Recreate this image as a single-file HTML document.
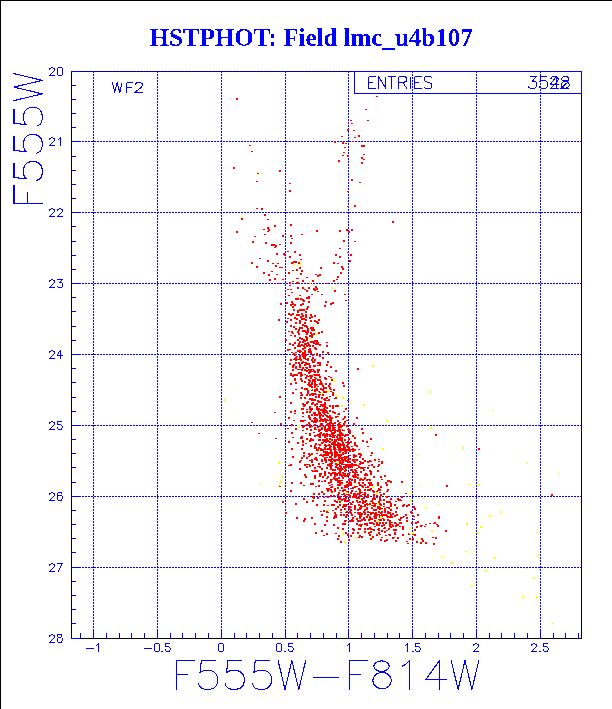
<!DOCTYPE html>
<html><head><meta charset="utf-8"><style>
html,body{margin:0;padding:0;background:#fff;width:612px;height:709px;overflow:hidden}
svg{display:block}
</style></head><body>
<svg width="612" height="709" viewBox="0 0 612 709" shape-rendering="crispEdges"><rect x="0" y="0" width="612" height="709" fill="#fff"/>
<rect x="0" y="0" width="612" height="1" fill="#000"/>
<rect x="0" y="0" width="1" height="709" fill="#000"/>
<path d="M71,71h511v1h-511z M71,638h511v1h-511z M71,71h1v568h-1z M581,71h1v568h-1z" fill="#000"/>
<path d="M93,71h1v2h-1zM93,74h1v2h-1zM93,77h1v2h-1zM93,80h1v2h-1zM93,83h1v2h-1zM93,86h1v2h-1zM93,89h1v2h-1zM93,92h1v2h-1zM93,95h1v2h-1zM93,98h1v2h-1zM93,101h1v2h-1zM93,104h1v2h-1zM93,107h1v2h-1zM93,110h1v2h-1zM93,113h1v2h-1zM93,116h1v2h-1zM93,119h1v2h-1zM93,122h1v2h-1zM93,125h1v2h-1zM93,128h1v2h-1zM93,131h1v2h-1zM93,134h1v2h-1zM93,137h1v2h-1zM93,140h1v2h-1zM93,143h1v2h-1zM93,146h1v2h-1zM93,149h1v2h-1zM93,152h1v2h-1zM93,155h1v2h-1zM93,158h1v2h-1zM93,161h1v2h-1zM93,164h1v2h-1zM93,167h1v2h-1zM93,170h1v2h-1zM93,173h1v2h-1zM93,176h1v2h-1zM93,179h1v2h-1zM93,182h1v2h-1zM93,185h1v2h-1zM93,188h1v2h-1zM93,191h1v2h-1zM93,194h1v2h-1zM93,197h1v2h-1zM93,200h1v2h-1zM93,203h1v2h-1zM93,206h1v2h-1zM93,209h1v2h-1zM93,212h1v2h-1zM93,215h1v2h-1zM93,218h1v2h-1zM93,221h1v2h-1zM93,224h1v2h-1zM93,227h1v2h-1zM93,230h1v2h-1zM93,233h1v2h-1zM93,236h1v2h-1zM93,239h1v2h-1zM93,242h1v2h-1zM93,245h1v2h-1zM93,248h1v2h-1zM93,251h1v2h-1zM93,254h1v2h-1zM93,257h1v2h-1zM93,260h1v2h-1zM93,263h1v2h-1zM93,266h1v2h-1zM93,269h1v2h-1zM93,272h1v2h-1zM93,275h1v2h-1zM93,278h1v2h-1zM93,281h1v2h-1zM93,284h1v2h-1zM93,287h1v2h-1zM93,290h1v2h-1zM93,293h1v2h-1zM93,296h1v2h-1zM93,299h1v2h-1zM93,302h1v2h-1zM93,305h1v2h-1zM93,308h1v2h-1zM93,311h1v2h-1zM93,314h1v2h-1zM93,317h1v2h-1zM93,320h1v2h-1zM93,323h1v2h-1zM93,326h1v2h-1zM93,329h1v2h-1zM93,332h1v2h-1zM93,335h1v2h-1zM93,338h1v2h-1zM93,341h1v2h-1zM93,344h1v2h-1zM93,347h1v2h-1zM93,350h1v2h-1zM93,353h1v2h-1zM93,356h1v2h-1zM93,359h1v2h-1zM93,362h1v2h-1zM93,365h1v2h-1zM93,368h1v2h-1zM93,371h1v2h-1zM93,374h1v2h-1zM93,377h1v2h-1zM93,380h1v2h-1zM93,383h1v2h-1zM93,386h1v2h-1zM93,389h1v2h-1zM93,392h1v2h-1zM93,395h1v2h-1zM93,398h1v2h-1zM93,401h1v2h-1zM93,404h1v2h-1zM93,407h1v2h-1zM93,410h1v2h-1zM93,413h1v2h-1zM93,416h1v2h-1zM93,419h1v2h-1zM93,422h1v2h-1zM93,425h1v2h-1zM93,428h1v2h-1zM93,431h1v2h-1zM93,434h1v2h-1zM93,437h1v2h-1zM93,440h1v2h-1zM93,443h1v2h-1zM93,446h1v2h-1zM93,449h1v2h-1zM93,452h1v2h-1zM93,455h1v2h-1zM93,458h1v2h-1zM93,461h1v2h-1zM93,464h1v2h-1zM93,467h1v2h-1zM93,470h1v2h-1zM93,473h1v2h-1zM93,476h1v2h-1zM93,479h1v2h-1zM93,482h1v2h-1zM93,485h1v2h-1zM93,488h1v2h-1zM93,491h1v2h-1zM93,494h1v2h-1zM93,497h1v2h-1zM93,500h1v2h-1zM93,503h1v2h-1zM93,506h1v2h-1zM93,509h1v2h-1zM93,512h1v2h-1zM93,515h1v2h-1zM93,518h1v2h-1zM93,521h1v2h-1zM93,524h1v2h-1zM93,527h1v2h-1zM93,530h1v2h-1zM93,533h1v2h-1zM93,536h1v2h-1zM93,539h1v2h-1zM93,542h1v2h-1zM93,545h1v2h-1zM93,548h1v2h-1zM93,551h1v2h-1zM93,554h1v2h-1zM93,557h1v2h-1zM93,560h1v2h-1zM93,563h1v2h-1zM93,566h1v2h-1zM93,569h1v2h-1zM93,572h1v2h-1zM93,575h1v2h-1zM93,578h1v2h-1zM93,581h1v2h-1zM93,584h1v2h-1zM93,587h1v2h-1zM93,590h1v2h-1zM93,593h1v2h-1zM93,596h1v2h-1zM93,599h1v2h-1zM93,602h1v2h-1zM93,605h1v2h-1zM93,608h1v2h-1zM93,611h1v2h-1zM93,614h1v2h-1zM93,617h1v2h-1zM93,620h1v2h-1zM93,623h1v2h-1zM93,626h1v2h-1zM93,629h1v2h-1zM93,632h1v2h-1zM93,635h1v2h-1zM93,638h1v1h-1zM157,71h1v2h-1zM157,74h1v2h-1zM157,77h1v2h-1zM157,80h1v2h-1zM157,83h1v2h-1zM157,86h1v2h-1zM157,89h1v2h-1zM157,92h1v2h-1zM157,95h1v2h-1zM157,98h1v2h-1zM157,101h1v2h-1zM157,104h1v2h-1zM157,107h1v2h-1zM157,110h1v2h-1zM157,113h1v2h-1zM157,116h1v2h-1zM157,119h1v2h-1zM157,122h1v2h-1zM157,125h1v2h-1zM157,128h1v2h-1zM157,131h1v2h-1zM157,134h1v2h-1zM157,137h1v2h-1zM157,140h1v2h-1zM157,143h1v2h-1zM157,146h1v2h-1zM157,149h1v2h-1zM157,152h1v2h-1zM157,155h1v2h-1zM157,158h1v2h-1zM157,161h1v2h-1zM157,164h1v2h-1zM157,167h1v2h-1zM157,170h1v2h-1zM157,173h1v2h-1zM157,176h1v2h-1zM157,179h1v2h-1zM157,182h1v2h-1zM157,185h1v2h-1zM157,188h1v2h-1zM157,191h1v2h-1zM157,194h1v2h-1zM157,197h1v2h-1zM157,200h1v2h-1zM157,203h1v2h-1zM157,206h1v2h-1zM157,209h1v2h-1zM157,212h1v2h-1zM157,215h1v2h-1zM157,218h1v2h-1zM157,221h1v2h-1zM157,224h1v2h-1zM157,227h1v2h-1zM157,230h1v2h-1zM157,233h1v2h-1zM157,236h1v2h-1zM157,239h1v2h-1zM157,242h1v2h-1zM157,245h1v2h-1zM157,248h1v2h-1zM157,251h1v2h-1zM157,254h1v2h-1zM157,257h1v2h-1zM157,260h1v2h-1zM157,263h1v2h-1zM157,266h1v2h-1zM157,269h1v2h-1zM157,272h1v2h-1zM157,275h1v2h-1zM157,278h1v2h-1zM157,281h1v2h-1zM157,284h1v2h-1zM157,287h1v2h-1zM157,290h1v2h-1zM157,293h1v2h-1zM157,296h1v2h-1zM157,299h1v2h-1zM157,302h1v2h-1zM157,305h1v2h-1zM157,308h1v2h-1zM157,311h1v2h-1zM157,314h1v2h-1zM157,317h1v2h-1zM157,320h1v2h-1zM157,323h1v2h-1zM157,326h1v2h-1zM157,329h1v2h-1zM157,332h1v2h-1zM157,335h1v2h-1zM157,338h1v2h-1zM157,341h1v2h-1zM157,344h1v2h-1zM157,347h1v2h-1zM157,350h1v2h-1zM157,353h1v2h-1zM157,356h1v2h-1zM157,359h1v2h-1zM157,362h1v2h-1zM157,365h1v2h-1zM157,368h1v2h-1zM157,371h1v2h-1zM157,374h1v2h-1zM157,377h1v2h-1zM157,380h1v2h-1zM157,383h1v2h-1zM157,386h1v2h-1zM157,389h1v2h-1zM157,392h1v2h-1zM157,395h1v2h-1zM157,398h1v2h-1zM157,401h1v2h-1zM157,404h1v2h-1zM157,407h1v2h-1zM157,410h1v2h-1zM157,413h1v2h-1zM157,416h1v2h-1zM157,419h1v2h-1zM157,422h1v2h-1zM157,425h1v2h-1zM157,428h1v2h-1zM157,431h1v2h-1zM157,434h1v2h-1zM157,437h1v2h-1zM157,440h1v2h-1zM157,443h1v2h-1zM157,446h1v2h-1zM157,449h1v2h-1zM157,452h1v2h-1zM157,455h1v2h-1zM157,458h1v2h-1zM157,461h1v2h-1zM157,464h1v2h-1zM157,467h1v2h-1zM157,470h1v2h-1zM157,473h1v2h-1zM157,476h1v2h-1zM157,479h1v2h-1zM157,482h1v2h-1zM157,485h1v2h-1zM157,488h1v2h-1zM157,491h1v2h-1zM157,494h1v2h-1zM157,497h1v2h-1zM157,500h1v2h-1zM157,503h1v2h-1zM157,506h1v2h-1zM157,509h1v2h-1zM157,512h1v2h-1zM157,515h1v2h-1zM157,518h1v2h-1zM157,521h1v2h-1zM157,524h1v2h-1zM157,527h1v2h-1zM157,530h1v2h-1zM157,533h1v2h-1zM157,536h1v2h-1zM157,539h1v2h-1zM157,542h1v2h-1zM157,545h1v2h-1zM157,548h1v2h-1zM157,551h1v2h-1zM157,554h1v2h-1zM157,557h1v2h-1zM157,560h1v2h-1zM157,563h1v2h-1zM157,566h1v2h-1zM157,569h1v2h-1zM157,572h1v2h-1zM157,575h1v2h-1zM157,578h1v2h-1zM157,581h1v2h-1zM157,584h1v2h-1zM157,587h1v2h-1zM157,590h1v2h-1zM157,593h1v2h-1zM157,596h1v2h-1zM157,599h1v2h-1zM157,602h1v2h-1zM157,605h1v2h-1zM157,608h1v2h-1zM157,611h1v2h-1zM157,614h1v2h-1zM157,617h1v2h-1zM157,620h1v2h-1zM157,623h1v2h-1zM157,626h1v2h-1zM157,629h1v2h-1zM157,632h1v2h-1zM157,635h1v2h-1zM157,638h1v1h-1zM221,71h1v2h-1zM221,74h1v2h-1zM221,77h1v2h-1zM221,80h1v2h-1zM221,83h1v2h-1zM221,86h1v2h-1zM221,89h1v2h-1zM221,92h1v2h-1zM221,95h1v2h-1zM221,98h1v2h-1zM221,101h1v2h-1zM221,104h1v2h-1zM221,107h1v2h-1zM221,110h1v2h-1zM221,113h1v2h-1zM221,116h1v2h-1zM221,119h1v2h-1zM221,122h1v2h-1zM221,125h1v2h-1zM221,128h1v2h-1zM221,131h1v2h-1zM221,134h1v2h-1zM221,137h1v2h-1zM221,140h1v2h-1zM221,143h1v2h-1zM221,146h1v2h-1zM221,149h1v2h-1zM221,152h1v2h-1zM221,155h1v2h-1zM221,158h1v2h-1zM221,161h1v2h-1zM221,164h1v2h-1zM221,167h1v2h-1zM221,170h1v2h-1zM221,173h1v2h-1zM221,176h1v2h-1zM221,179h1v2h-1zM221,182h1v2h-1zM221,185h1v2h-1zM221,188h1v2h-1zM221,191h1v2h-1zM221,194h1v2h-1zM221,197h1v2h-1zM221,200h1v2h-1zM221,203h1v2h-1zM221,206h1v2h-1zM221,209h1v2h-1zM221,212h1v2h-1zM221,215h1v2h-1zM221,218h1v2h-1zM221,221h1v2h-1zM221,224h1v2h-1zM221,227h1v2h-1zM221,230h1v2h-1zM221,233h1v2h-1zM221,236h1v2h-1zM221,239h1v2h-1zM221,242h1v2h-1zM221,245h1v2h-1zM221,248h1v2h-1zM221,251h1v2h-1zM221,254h1v2h-1zM221,257h1v2h-1zM221,260h1v2h-1zM221,263h1v2h-1zM221,266h1v2h-1zM221,269h1v2h-1zM221,272h1v2h-1zM221,275h1v2h-1zM221,278h1v2h-1zM221,281h1v2h-1zM221,284h1v2h-1zM221,287h1v2h-1zM221,290h1v2h-1zM221,293h1v2h-1zM221,296h1v2h-1zM221,299h1v2h-1zM221,302h1v2h-1zM221,305h1v2h-1zM221,308h1v2h-1zM221,311h1v2h-1zM221,314h1v2h-1zM221,317h1v2h-1zM221,320h1v2h-1zM221,323h1v2h-1zM221,326h1v2h-1zM221,329h1v2h-1zM221,332h1v2h-1zM221,335h1v2h-1zM221,338h1v2h-1zM221,341h1v2h-1zM221,344h1v2h-1zM221,347h1v2h-1zM221,350h1v2h-1zM221,353h1v2h-1zM221,356h1v2h-1zM221,359h1v2h-1zM221,362h1v2h-1zM221,365h1v2h-1zM221,368h1v2h-1zM221,371h1v2h-1zM221,374h1v2h-1zM221,377h1v2h-1zM221,380h1v2h-1zM221,383h1v2h-1zM221,386h1v2h-1zM221,389h1v2h-1zM221,392h1v2h-1zM221,395h1v2h-1zM221,398h1v2h-1zM221,401h1v2h-1zM221,404h1v2h-1zM221,407h1v2h-1zM221,410h1v2h-1zM221,413h1v2h-1zM221,416h1v2h-1zM221,419h1v2h-1zM221,422h1v2h-1zM221,425h1v2h-1zM221,428h1v2h-1zM221,431h1v2h-1zM221,434h1v2h-1zM221,437h1v2h-1zM221,440h1v2h-1zM221,443h1v2h-1zM221,446h1v2h-1zM221,449h1v2h-1zM221,452h1v2h-1zM221,455h1v2h-1zM221,458h1v2h-1zM221,461h1v2h-1zM221,464h1v2h-1zM221,467h1v2h-1zM221,470h1v2h-1zM221,473h1v2h-1zM221,476h1v2h-1zM221,479h1v2h-1zM221,482h1v2h-1zM221,485h1v2h-1zM221,488h1v2h-1zM221,491h1v2h-1zM221,494h1v2h-1zM221,497h1v2h-1zM221,500h1v2h-1zM221,503h1v2h-1zM221,506h1v2h-1zM221,509h1v2h-1zM221,512h1v2h-1zM221,515h1v2h-1zM221,518h1v2h-1zM221,521h1v2h-1zM221,524h1v2h-1zM221,527h1v2h-1zM221,530h1v2h-1zM221,533h1v2h-1zM221,536h1v2h-1zM221,539h1v2h-1zM221,542h1v2h-1zM221,545h1v2h-1zM221,548h1v2h-1zM221,551h1v2h-1zM221,554h1v2h-1zM221,557h1v2h-1zM221,560h1v2h-1zM221,563h1v2h-1zM221,566h1v2h-1zM221,569h1v2h-1zM221,572h1v2h-1zM221,575h1v2h-1zM221,578h1v2h-1zM221,581h1v2h-1zM221,584h1v2h-1zM221,587h1v2h-1zM221,590h1v2h-1zM221,593h1v2h-1zM221,596h1v2h-1zM221,599h1v2h-1zM221,602h1v2h-1zM221,605h1v2h-1zM221,608h1v2h-1zM221,611h1v2h-1zM221,614h1v2h-1zM221,617h1v2h-1zM221,620h1v2h-1zM221,623h1v2h-1zM221,626h1v2h-1zM221,629h1v2h-1zM221,632h1v2h-1zM221,635h1v2h-1zM221,638h1v1h-1zM285,71h1v2h-1zM285,74h1v2h-1zM285,77h1v2h-1zM285,80h1v2h-1zM285,83h1v2h-1zM285,86h1v2h-1zM285,89h1v2h-1zM285,92h1v2h-1zM285,95h1v2h-1zM285,98h1v2h-1zM285,101h1v2h-1zM285,104h1v2h-1zM285,107h1v2h-1zM285,110h1v2h-1zM285,113h1v2h-1zM285,116h1v2h-1zM285,119h1v2h-1zM285,122h1v2h-1zM285,125h1v2h-1zM285,128h1v2h-1zM285,131h1v2h-1zM285,134h1v2h-1zM285,137h1v2h-1zM285,140h1v2h-1zM285,143h1v2h-1zM285,146h1v2h-1zM285,149h1v2h-1zM285,152h1v2h-1zM285,155h1v2h-1zM285,158h1v2h-1zM285,161h1v2h-1zM285,164h1v2h-1zM285,167h1v2h-1zM285,170h1v2h-1zM285,173h1v2h-1zM285,176h1v2h-1zM285,179h1v2h-1zM285,182h1v2h-1zM285,185h1v2h-1zM285,188h1v2h-1zM285,191h1v2h-1zM285,194h1v2h-1zM285,197h1v2h-1zM285,200h1v2h-1zM285,203h1v2h-1zM285,206h1v2h-1zM285,209h1v2h-1zM285,212h1v2h-1zM285,215h1v2h-1zM285,218h1v2h-1zM285,221h1v2h-1zM285,224h1v2h-1zM285,227h1v2h-1zM285,230h1v2h-1zM285,233h1v2h-1zM285,236h1v2h-1zM285,239h1v2h-1zM285,242h1v2h-1zM285,245h1v2h-1zM285,248h1v2h-1zM285,251h1v2h-1zM285,254h1v2h-1zM285,257h1v2h-1zM285,260h1v2h-1zM285,263h1v2h-1zM285,266h1v2h-1zM285,269h1v2h-1zM285,272h1v2h-1zM285,275h1v2h-1zM285,278h1v2h-1zM285,281h1v2h-1zM285,284h1v2h-1zM285,287h1v2h-1zM285,290h1v2h-1zM285,293h1v2h-1zM285,296h1v2h-1zM285,299h1v2h-1zM285,302h1v2h-1zM285,305h1v2h-1zM285,308h1v2h-1zM285,311h1v2h-1zM285,314h1v2h-1zM285,317h1v2h-1zM285,320h1v2h-1zM285,323h1v2h-1zM285,326h1v2h-1zM285,329h1v2h-1zM285,332h1v2h-1zM285,335h1v2h-1zM285,338h1v2h-1zM285,341h1v2h-1zM285,344h1v2h-1zM285,347h1v2h-1zM285,350h1v2h-1zM285,353h1v2h-1zM285,356h1v2h-1zM285,359h1v2h-1zM285,362h1v2h-1zM285,365h1v2h-1zM285,368h1v2h-1zM285,371h1v2h-1zM285,374h1v2h-1zM285,377h1v2h-1zM285,380h1v2h-1zM285,383h1v2h-1zM285,386h1v2h-1zM285,389h1v2h-1zM285,392h1v2h-1zM285,395h1v2h-1zM285,398h1v2h-1zM285,401h1v2h-1zM285,404h1v2h-1zM285,407h1v2h-1zM285,410h1v2h-1zM285,413h1v2h-1zM285,416h1v2h-1zM285,419h1v2h-1zM285,422h1v2h-1zM285,425h1v2h-1zM285,428h1v2h-1zM285,431h1v2h-1zM285,434h1v2h-1zM285,437h1v2h-1zM285,440h1v2h-1zM285,443h1v2h-1zM285,446h1v2h-1zM285,449h1v2h-1zM285,452h1v2h-1zM285,455h1v2h-1zM285,458h1v2h-1zM285,461h1v2h-1zM285,464h1v2h-1zM285,467h1v2h-1zM285,470h1v2h-1zM285,473h1v2h-1zM285,476h1v2h-1zM285,479h1v2h-1zM285,482h1v2h-1zM285,485h1v2h-1zM285,488h1v2h-1zM285,491h1v2h-1zM285,494h1v2h-1zM285,497h1v2h-1zM285,500h1v2h-1zM285,503h1v2h-1zM285,506h1v2h-1zM285,509h1v2h-1zM285,512h1v2h-1zM285,515h1v2h-1zM285,518h1v2h-1zM285,521h1v2h-1zM285,524h1v2h-1zM285,527h1v2h-1zM285,530h1v2h-1zM285,533h1v2h-1zM285,536h1v2h-1zM285,539h1v2h-1zM285,542h1v2h-1zM285,545h1v2h-1zM285,548h1v2h-1zM285,551h1v2h-1zM285,554h1v2h-1zM285,557h1v2h-1zM285,560h1v2h-1zM285,563h1v2h-1zM285,566h1v2h-1zM285,569h1v2h-1zM285,572h1v2h-1zM285,575h1v2h-1zM285,578h1v2h-1zM285,581h1v2h-1zM285,584h1v2h-1zM285,587h1v2h-1zM285,590h1v2h-1zM285,593h1v2h-1zM285,596h1v2h-1zM285,599h1v2h-1zM285,602h1v2h-1zM285,605h1v2h-1zM285,608h1v2h-1zM285,611h1v2h-1zM285,614h1v2h-1zM285,617h1v2h-1zM285,620h1v2h-1zM285,623h1v2h-1zM285,626h1v2h-1zM285,629h1v2h-1zM285,632h1v2h-1zM285,635h1v2h-1zM285,638h1v1h-1zM348,71h1v2h-1zM348,74h1v2h-1zM348,77h1v2h-1zM348,80h1v2h-1zM348,83h1v2h-1zM348,86h1v2h-1zM348,89h1v2h-1zM348,92h1v2h-1zM348,95h1v2h-1zM348,98h1v2h-1zM348,101h1v2h-1zM348,104h1v2h-1zM348,107h1v2h-1zM348,110h1v2h-1zM348,113h1v2h-1zM348,116h1v2h-1zM348,119h1v2h-1zM348,122h1v2h-1zM348,125h1v2h-1zM348,128h1v2h-1zM348,131h1v2h-1zM348,134h1v2h-1zM348,137h1v2h-1zM348,140h1v2h-1zM348,143h1v2h-1zM348,146h1v2h-1zM348,149h1v2h-1zM348,152h1v2h-1zM348,155h1v2h-1zM348,158h1v2h-1zM348,161h1v2h-1zM348,164h1v2h-1zM348,167h1v2h-1zM348,170h1v2h-1zM348,173h1v2h-1zM348,176h1v2h-1zM348,179h1v2h-1zM348,182h1v2h-1zM348,185h1v2h-1zM348,188h1v2h-1zM348,191h1v2h-1zM348,194h1v2h-1zM348,197h1v2h-1zM348,200h1v2h-1zM348,203h1v2h-1zM348,206h1v2h-1zM348,209h1v2h-1zM348,212h1v2h-1zM348,215h1v2h-1zM348,218h1v2h-1zM348,221h1v2h-1zM348,224h1v2h-1zM348,227h1v2h-1zM348,230h1v2h-1zM348,233h1v2h-1zM348,236h1v2h-1zM348,239h1v2h-1zM348,242h1v2h-1zM348,245h1v2h-1zM348,248h1v2h-1zM348,251h1v2h-1zM348,254h1v2h-1zM348,257h1v2h-1zM348,260h1v2h-1zM348,263h1v2h-1zM348,266h1v2h-1zM348,269h1v2h-1zM348,272h1v2h-1zM348,275h1v2h-1zM348,278h1v2h-1zM348,281h1v2h-1zM348,284h1v2h-1zM348,287h1v2h-1zM348,290h1v2h-1zM348,293h1v2h-1zM348,296h1v2h-1zM348,299h1v2h-1zM348,302h1v2h-1zM348,305h1v2h-1zM348,308h1v2h-1zM348,311h1v2h-1zM348,314h1v2h-1zM348,317h1v2h-1zM348,320h1v2h-1zM348,323h1v2h-1zM348,326h1v2h-1zM348,329h1v2h-1zM348,332h1v2h-1zM348,335h1v2h-1zM348,338h1v2h-1zM348,341h1v2h-1zM348,344h1v2h-1zM348,347h1v2h-1zM348,350h1v2h-1zM348,353h1v2h-1zM348,356h1v2h-1zM348,359h1v2h-1zM348,362h1v2h-1zM348,365h1v2h-1zM348,368h1v2h-1zM348,371h1v2h-1zM348,374h1v2h-1zM348,377h1v2h-1zM348,380h1v2h-1zM348,383h1v2h-1zM348,386h1v2h-1zM348,389h1v2h-1zM348,392h1v2h-1zM348,395h1v2h-1zM348,398h1v2h-1zM348,401h1v2h-1zM348,404h1v2h-1zM348,407h1v2h-1zM348,410h1v2h-1zM348,413h1v2h-1zM348,416h1v2h-1zM348,419h1v2h-1zM348,422h1v2h-1zM348,425h1v2h-1zM348,428h1v2h-1zM348,431h1v2h-1zM348,434h1v2h-1zM348,437h1v2h-1zM348,440h1v2h-1zM348,443h1v2h-1zM348,446h1v2h-1zM348,449h1v2h-1zM348,452h1v2h-1zM348,455h1v2h-1zM348,458h1v2h-1zM348,461h1v2h-1zM348,464h1v2h-1zM348,467h1v2h-1zM348,470h1v2h-1zM348,473h1v2h-1zM348,476h1v2h-1zM348,479h1v2h-1zM348,482h1v2h-1zM348,485h1v2h-1zM348,488h1v2h-1zM348,491h1v2h-1zM348,494h1v2h-1zM348,497h1v2h-1zM348,500h1v2h-1zM348,503h1v2h-1zM348,506h1v2h-1zM348,509h1v2h-1zM348,512h1v2h-1zM348,515h1v2h-1zM348,518h1v2h-1zM348,521h1v2h-1zM348,524h1v2h-1zM348,527h1v2h-1zM348,530h1v2h-1zM348,533h1v2h-1zM348,536h1v2h-1zM348,539h1v2h-1zM348,542h1v2h-1zM348,545h1v2h-1zM348,548h1v2h-1zM348,551h1v2h-1zM348,554h1v2h-1zM348,557h1v2h-1zM348,560h1v2h-1zM348,563h1v2h-1zM348,566h1v2h-1zM348,569h1v2h-1zM348,572h1v2h-1zM348,575h1v2h-1zM348,578h1v2h-1zM348,581h1v2h-1zM348,584h1v2h-1zM348,587h1v2h-1zM348,590h1v2h-1zM348,593h1v2h-1zM348,596h1v2h-1zM348,599h1v2h-1zM348,602h1v2h-1zM348,605h1v2h-1zM348,608h1v2h-1zM348,611h1v2h-1zM348,614h1v2h-1zM348,617h1v2h-1zM348,620h1v2h-1zM348,623h1v2h-1zM348,626h1v2h-1zM348,629h1v2h-1zM348,632h1v2h-1zM348,635h1v2h-1zM348,638h1v1h-1zM412,71h1v2h-1zM412,74h1v2h-1zM412,77h1v2h-1zM412,80h1v2h-1zM412,83h1v2h-1zM412,86h1v2h-1zM412,89h1v2h-1zM412,92h1v2h-1zM412,95h1v2h-1zM412,98h1v2h-1zM412,101h1v2h-1zM412,104h1v2h-1zM412,107h1v2h-1zM412,110h1v2h-1zM412,113h1v2h-1zM412,116h1v2h-1zM412,119h1v2h-1zM412,122h1v2h-1zM412,125h1v2h-1zM412,128h1v2h-1zM412,131h1v2h-1zM412,134h1v2h-1zM412,137h1v2h-1zM412,140h1v2h-1zM412,143h1v2h-1zM412,146h1v2h-1zM412,149h1v2h-1zM412,152h1v2h-1zM412,155h1v2h-1zM412,158h1v2h-1zM412,161h1v2h-1zM412,164h1v2h-1zM412,167h1v2h-1zM412,170h1v2h-1zM412,173h1v2h-1zM412,176h1v2h-1zM412,179h1v2h-1zM412,182h1v2h-1zM412,185h1v2h-1zM412,188h1v2h-1zM412,191h1v2h-1zM412,194h1v2h-1zM412,197h1v2h-1zM412,200h1v2h-1zM412,203h1v2h-1zM412,206h1v2h-1zM412,209h1v2h-1zM412,212h1v2h-1zM412,215h1v2h-1zM412,218h1v2h-1zM412,221h1v2h-1zM412,224h1v2h-1zM412,227h1v2h-1zM412,230h1v2h-1zM412,233h1v2h-1zM412,236h1v2h-1zM412,239h1v2h-1zM412,242h1v2h-1zM412,245h1v2h-1zM412,248h1v2h-1zM412,251h1v2h-1zM412,254h1v2h-1zM412,257h1v2h-1zM412,260h1v2h-1zM412,263h1v2h-1zM412,266h1v2h-1zM412,269h1v2h-1zM412,272h1v2h-1zM412,275h1v2h-1zM412,278h1v2h-1zM412,281h1v2h-1zM412,284h1v2h-1zM412,287h1v2h-1zM412,290h1v2h-1zM412,293h1v2h-1zM412,296h1v2h-1zM412,299h1v2h-1zM412,302h1v2h-1zM412,305h1v2h-1zM412,308h1v2h-1zM412,311h1v2h-1zM412,314h1v2h-1zM412,317h1v2h-1zM412,320h1v2h-1zM412,323h1v2h-1zM412,326h1v2h-1zM412,329h1v2h-1zM412,332h1v2h-1zM412,335h1v2h-1zM412,338h1v2h-1zM412,341h1v2h-1zM412,344h1v2h-1zM412,347h1v2h-1zM412,350h1v2h-1zM412,353h1v2h-1zM412,356h1v2h-1zM412,359h1v2h-1zM412,362h1v2h-1zM412,365h1v2h-1zM412,368h1v2h-1zM412,371h1v2h-1zM412,374h1v2h-1zM412,377h1v2h-1zM412,380h1v2h-1zM412,383h1v2h-1zM412,386h1v2h-1zM412,389h1v2h-1zM412,392h1v2h-1zM412,395h1v2h-1zM412,398h1v2h-1zM412,401h1v2h-1zM412,404h1v2h-1zM412,407h1v2h-1zM412,410h1v2h-1zM412,413h1v2h-1zM412,416h1v2h-1zM412,419h1v2h-1zM412,422h1v2h-1zM412,425h1v2h-1zM412,428h1v2h-1zM412,431h1v2h-1zM412,434h1v2h-1zM412,437h1v2h-1zM412,440h1v2h-1zM412,443h1v2h-1zM412,446h1v2h-1zM412,449h1v2h-1zM412,452h1v2h-1zM412,455h1v2h-1zM412,458h1v2h-1zM412,461h1v2h-1zM412,464h1v2h-1zM412,467h1v2h-1zM412,470h1v2h-1zM412,473h1v2h-1zM412,476h1v2h-1zM412,479h1v2h-1zM412,482h1v2h-1zM412,485h1v2h-1zM412,488h1v2h-1zM412,491h1v2h-1zM412,494h1v2h-1zM412,497h1v2h-1zM412,500h1v2h-1zM412,503h1v2h-1zM412,506h1v2h-1zM412,509h1v2h-1zM412,512h1v2h-1zM412,515h1v2h-1zM412,518h1v2h-1zM412,521h1v2h-1zM412,524h1v2h-1zM412,527h1v2h-1zM412,530h1v2h-1zM412,533h1v2h-1zM412,536h1v2h-1zM412,539h1v2h-1zM412,542h1v2h-1zM412,545h1v2h-1zM412,548h1v2h-1zM412,551h1v2h-1zM412,554h1v2h-1zM412,557h1v2h-1zM412,560h1v2h-1zM412,563h1v2h-1zM412,566h1v2h-1zM412,569h1v2h-1zM412,572h1v2h-1zM412,575h1v2h-1zM412,578h1v2h-1zM412,581h1v2h-1zM412,584h1v2h-1zM412,587h1v2h-1zM412,590h1v2h-1zM412,593h1v2h-1zM412,596h1v2h-1zM412,599h1v2h-1zM412,602h1v2h-1zM412,605h1v2h-1zM412,608h1v2h-1zM412,611h1v2h-1zM412,614h1v2h-1zM412,617h1v2h-1zM412,620h1v2h-1zM412,623h1v2h-1zM412,626h1v2h-1zM412,629h1v2h-1zM412,632h1v2h-1zM412,635h1v2h-1zM412,638h1v1h-1zM476,71h1v2h-1zM476,74h1v2h-1zM476,77h1v2h-1zM476,80h1v2h-1zM476,83h1v2h-1zM476,86h1v2h-1zM476,89h1v2h-1zM476,92h1v2h-1zM476,95h1v2h-1zM476,98h1v2h-1zM476,101h1v2h-1zM476,104h1v2h-1zM476,107h1v2h-1zM476,110h1v2h-1zM476,113h1v2h-1zM476,116h1v2h-1zM476,119h1v2h-1zM476,122h1v2h-1zM476,125h1v2h-1zM476,128h1v2h-1zM476,131h1v2h-1zM476,134h1v2h-1zM476,137h1v2h-1zM476,140h1v2h-1zM476,143h1v2h-1zM476,146h1v2h-1zM476,149h1v2h-1zM476,152h1v2h-1zM476,155h1v2h-1zM476,158h1v2h-1zM476,161h1v2h-1zM476,164h1v2h-1zM476,167h1v2h-1zM476,170h1v2h-1zM476,173h1v2h-1zM476,176h1v2h-1zM476,179h1v2h-1zM476,182h1v2h-1zM476,185h1v2h-1zM476,188h1v2h-1zM476,191h1v2h-1zM476,194h1v2h-1zM476,197h1v2h-1zM476,200h1v2h-1zM476,203h1v2h-1zM476,206h1v2h-1zM476,209h1v2h-1zM476,212h1v2h-1zM476,215h1v2h-1zM476,218h1v2h-1zM476,221h1v2h-1zM476,224h1v2h-1zM476,227h1v2h-1zM476,230h1v2h-1zM476,233h1v2h-1zM476,236h1v2h-1zM476,239h1v2h-1zM476,242h1v2h-1zM476,245h1v2h-1zM476,248h1v2h-1zM476,251h1v2h-1zM476,254h1v2h-1zM476,257h1v2h-1zM476,260h1v2h-1zM476,263h1v2h-1zM476,266h1v2h-1zM476,269h1v2h-1zM476,272h1v2h-1zM476,275h1v2h-1zM476,278h1v2h-1zM476,281h1v2h-1zM476,284h1v2h-1zM476,287h1v2h-1zM476,290h1v2h-1zM476,293h1v2h-1zM476,296h1v2h-1zM476,299h1v2h-1zM476,302h1v2h-1zM476,305h1v2h-1zM476,308h1v2h-1zM476,311h1v2h-1zM476,314h1v2h-1zM476,317h1v2h-1zM476,320h1v2h-1zM476,323h1v2h-1zM476,326h1v2h-1zM476,329h1v2h-1zM476,332h1v2h-1zM476,335h1v2h-1zM476,338h1v2h-1zM476,341h1v2h-1zM476,344h1v2h-1zM476,347h1v2h-1zM476,350h1v2h-1zM476,353h1v2h-1zM476,356h1v2h-1zM476,359h1v2h-1zM476,362h1v2h-1zM476,365h1v2h-1zM476,368h1v2h-1zM476,371h1v2h-1zM476,374h1v2h-1zM476,377h1v2h-1zM476,380h1v2h-1zM476,383h1v2h-1zM476,386h1v2h-1zM476,389h1v2h-1zM476,392h1v2h-1zM476,395h1v2h-1zM476,398h1v2h-1zM476,401h1v2h-1zM476,404h1v2h-1zM476,407h1v2h-1zM476,410h1v2h-1zM476,413h1v2h-1zM476,416h1v2h-1zM476,419h1v2h-1zM476,422h1v2h-1zM476,425h1v2h-1zM476,428h1v2h-1zM476,431h1v2h-1zM476,434h1v2h-1zM476,437h1v2h-1zM476,440h1v2h-1zM476,443h1v2h-1zM476,446h1v2h-1zM476,449h1v2h-1zM476,452h1v2h-1zM476,455h1v2h-1zM476,458h1v2h-1zM476,461h1v2h-1zM476,464h1v2h-1zM476,467h1v2h-1zM476,470h1v2h-1zM476,473h1v2h-1zM476,476h1v2h-1zM476,479h1v2h-1zM476,482h1v2h-1zM476,485h1v2h-1zM476,488h1v2h-1zM476,491h1v2h-1zM476,494h1v2h-1zM476,497h1v2h-1zM476,500h1v2h-1zM476,503h1v2h-1zM476,506h1v2h-1zM476,509h1v2h-1zM476,512h1v2h-1zM476,515h1v2h-1zM476,518h1v2h-1zM476,521h1v2h-1zM476,524h1v2h-1zM476,527h1v2h-1zM476,530h1v2h-1zM476,533h1v2h-1zM476,536h1v2h-1zM476,539h1v2h-1zM476,542h1v2h-1zM476,545h1v2h-1zM476,548h1v2h-1zM476,551h1v2h-1zM476,554h1v2h-1zM476,557h1v2h-1zM476,560h1v2h-1zM476,563h1v2h-1zM476,566h1v2h-1zM476,569h1v2h-1zM476,572h1v2h-1zM476,575h1v2h-1zM476,578h1v2h-1zM476,581h1v2h-1zM476,584h1v2h-1zM476,587h1v2h-1zM476,590h1v2h-1zM476,593h1v2h-1zM476,596h1v2h-1zM476,599h1v2h-1zM476,602h1v2h-1zM476,605h1v2h-1zM476,608h1v2h-1zM476,611h1v2h-1zM476,614h1v2h-1zM476,617h1v2h-1zM476,620h1v2h-1zM476,623h1v2h-1zM476,626h1v2h-1zM476,629h1v2h-1zM476,632h1v2h-1zM476,635h1v2h-1zM476,638h1v1h-1zM540,71h1v2h-1zM540,74h1v2h-1zM540,77h1v2h-1zM540,80h1v2h-1zM540,83h1v2h-1zM540,86h1v2h-1zM540,89h1v2h-1zM540,92h1v2h-1zM540,95h1v2h-1zM540,98h1v2h-1zM540,101h1v2h-1zM540,104h1v2h-1zM540,107h1v2h-1zM540,110h1v2h-1zM540,113h1v2h-1zM540,116h1v2h-1zM540,119h1v2h-1zM540,122h1v2h-1zM540,125h1v2h-1zM540,128h1v2h-1zM540,131h1v2h-1zM540,134h1v2h-1zM540,137h1v2h-1zM540,140h1v2h-1zM540,143h1v2h-1zM540,146h1v2h-1zM540,149h1v2h-1zM540,152h1v2h-1zM540,155h1v2h-1zM540,158h1v2h-1zM540,161h1v2h-1zM540,164h1v2h-1zM540,167h1v2h-1zM540,170h1v2h-1zM540,173h1v2h-1zM540,176h1v2h-1zM540,179h1v2h-1zM540,182h1v2h-1zM540,185h1v2h-1zM540,188h1v2h-1zM540,191h1v2h-1zM540,194h1v2h-1zM540,197h1v2h-1zM540,200h1v2h-1zM540,203h1v2h-1zM540,206h1v2h-1zM540,209h1v2h-1zM540,212h1v2h-1zM540,215h1v2h-1zM540,218h1v2h-1zM540,221h1v2h-1zM540,224h1v2h-1zM540,227h1v2h-1zM540,230h1v2h-1zM540,233h1v2h-1zM540,236h1v2h-1zM540,239h1v2h-1zM540,242h1v2h-1zM540,245h1v2h-1zM540,248h1v2h-1zM540,251h1v2h-1zM540,254h1v2h-1zM540,257h1v2h-1zM540,260h1v2h-1zM540,263h1v2h-1zM540,266h1v2h-1zM540,269h1v2h-1zM540,272h1v2h-1zM540,275h1v2h-1zM540,278h1v2h-1zM540,281h1v2h-1zM540,284h1v2h-1zM540,287h1v2h-1zM540,290h1v2h-1zM540,293h1v2h-1zM540,296h1v2h-1zM540,299h1v2h-1zM540,302h1v2h-1zM540,305h1v2h-1zM540,308h1v2h-1zM540,311h1v2h-1zM540,314h1v2h-1zM540,317h1v2h-1zM540,320h1v2h-1zM540,323h1v2h-1zM540,326h1v2h-1zM540,329h1v2h-1zM540,332h1v2h-1zM540,335h1v2h-1zM540,338h1v2h-1zM540,341h1v2h-1zM540,344h1v2h-1zM540,347h1v2h-1zM540,350h1v2h-1zM540,353h1v2h-1zM540,356h1v2h-1zM540,359h1v2h-1zM540,362h1v2h-1zM540,365h1v2h-1zM540,368h1v2h-1zM540,371h1v2h-1zM540,374h1v2h-1zM540,377h1v2h-1zM540,380h1v2h-1zM540,383h1v2h-1zM540,386h1v2h-1zM540,389h1v2h-1zM540,392h1v2h-1zM540,395h1v2h-1zM540,398h1v2h-1zM540,401h1v2h-1zM540,404h1v2h-1zM540,407h1v2h-1zM540,410h1v2h-1zM540,413h1v2h-1zM540,416h1v2h-1zM540,419h1v2h-1zM540,422h1v2h-1zM540,425h1v2h-1zM540,428h1v2h-1zM540,431h1v2h-1zM540,434h1v2h-1zM540,437h1v2h-1zM540,440h1v2h-1zM540,443h1v2h-1zM540,446h1v2h-1zM540,449h1v2h-1zM540,452h1v2h-1zM540,455h1v2h-1zM540,458h1v2h-1zM540,461h1v2h-1zM540,464h1v2h-1zM540,467h1v2h-1zM540,470h1v2h-1zM540,473h1v2h-1zM540,476h1v2h-1zM540,479h1v2h-1zM540,482h1v2h-1zM540,485h1v2h-1zM540,488h1v2h-1zM540,491h1v2h-1zM540,494h1v2h-1zM540,497h1v2h-1zM540,500h1v2h-1zM540,503h1v2h-1zM540,506h1v2h-1zM540,509h1v2h-1zM540,512h1v2h-1zM540,515h1v2h-1zM540,518h1v2h-1zM540,521h1v2h-1zM540,524h1v2h-1zM540,527h1v2h-1zM540,530h1v2h-1zM540,533h1v2h-1zM540,536h1v2h-1zM540,539h1v2h-1zM540,542h1v2h-1zM540,545h1v2h-1zM540,548h1v2h-1zM540,551h1v2h-1zM540,554h1v2h-1zM540,557h1v2h-1zM540,560h1v2h-1zM540,563h1v2h-1zM540,566h1v2h-1zM540,569h1v2h-1zM540,572h1v2h-1zM540,575h1v2h-1zM540,578h1v2h-1zM540,581h1v2h-1zM540,584h1v2h-1zM540,587h1v2h-1zM540,590h1v2h-1zM540,593h1v2h-1zM540,596h1v2h-1zM540,599h1v2h-1zM540,602h1v2h-1zM540,605h1v2h-1zM540,608h1v2h-1zM540,611h1v2h-1zM540,614h1v2h-1zM540,617h1v2h-1zM540,620h1v2h-1zM540,623h1v2h-1zM540,626h1v2h-1zM540,629h1v2h-1zM540,632h1v2h-1zM540,635h1v2h-1zM540,638h1v1h-1zM71,71h1v1h-1zM73,71h2v1h-2zM76,71h2v1h-2zM79,71h2v1h-2zM82,71h2v1h-2zM85,71h2v1h-2zM88,71h2v1h-2zM91,71h2v1h-2zM94,71h2v1h-2zM97,71h2v1h-2zM100,71h2v1h-2zM103,71h2v1h-2zM106,71h2v1h-2zM109,71h2v1h-2zM112,71h2v1h-2zM115,71h2v1h-2zM118,71h2v1h-2zM121,71h2v1h-2zM124,71h2v1h-2zM127,71h2v1h-2zM130,71h2v1h-2zM133,71h2v1h-2zM136,71h2v1h-2zM139,71h2v1h-2zM142,71h2v1h-2zM145,71h2v1h-2zM148,71h2v1h-2zM151,71h2v1h-2zM154,71h2v1h-2zM157,71h2v1h-2zM160,71h2v1h-2zM163,71h2v1h-2zM166,71h2v1h-2zM169,71h2v1h-2zM172,71h2v1h-2zM175,71h2v1h-2zM178,71h2v1h-2zM181,71h2v1h-2zM184,71h2v1h-2zM187,71h2v1h-2zM190,71h2v1h-2zM193,71h2v1h-2zM196,71h2v1h-2zM199,71h2v1h-2zM202,71h2v1h-2zM205,71h2v1h-2zM208,71h2v1h-2zM211,71h2v1h-2zM214,71h2v1h-2zM217,71h2v1h-2zM220,71h2v1h-2zM223,71h2v1h-2zM226,71h2v1h-2zM229,71h2v1h-2zM232,71h2v1h-2zM235,71h2v1h-2zM238,71h2v1h-2zM241,71h2v1h-2zM244,71h2v1h-2zM247,71h2v1h-2zM250,71h2v1h-2zM253,71h2v1h-2zM256,71h2v1h-2zM259,71h2v1h-2zM262,71h2v1h-2zM265,71h2v1h-2zM268,71h2v1h-2zM271,71h2v1h-2zM274,71h2v1h-2zM277,71h2v1h-2zM280,71h2v1h-2zM283,71h2v1h-2zM286,71h2v1h-2zM289,71h2v1h-2zM292,71h2v1h-2zM295,71h2v1h-2zM298,71h2v1h-2zM301,71h2v1h-2zM304,71h2v1h-2zM307,71h2v1h-2zM310,71h2v1h-2zM313,71h2v1h-2zM316,71h2v1h-2zM319,71h2v1h-2zM322,71h2v1h-2zM325,71h2v1h-2zM328,71h2v1h-2zM331,71h2v1h-2zM334,71h2v1h-2zM337,71h2v1h-2zM340,71h2v1h-2zM343,71h2v1h-2zM346,71h2v1h-2zM349,71h2v1h-2zM352,71h2v1h-2zM355,71h2v1h-2zM358,71h2v1h-2zM361,71h2v1h-2zM364,71h2v1h-2zM367,71h2v1h-2zM370,71h2v1h-2zM373,71h2v1h-2zM376,71h2v1h-2zM379,71h2v1h-2zM382,71h2v1h-2zM385,71h2v1h-2zM388,71h2v1h-2zM391,71h2v1h-2zM394,71h2v1h-2zM397,71h2v1h-2zM400,71h2v1h-2zM403,71h2v1h-2zM406,71h2v1h-2zM409,71h2v1h-2zM412,71h2v1h-2zM415,71h2v1h-2zM418,71h2v1h-2zM421,71h2v1h-2zM424,71h2v1h-2zM427,71h2v1h-2zM430,71h2v1h-2zM433,71h2v1h-2zM436,71h2v1h-2zM439,71h2v1h-2zM442,71h2v1h-2zM445,71h2v1h-2zM448,71h2v1h-2zM451,71h2v1h-2zM454,71h2v1h-2zM457,71h2v1h-2zM460,71h2v1h-2zM463,71h2v1h-2zM466,71h2v1h-2zM469,71h2v1h-2zM472,71h2v1h-2zM475,71h2v1h-2zM478,71h2v1h-2zM481,71h2v1h-2zM484,71h2v1h-2zM487,71h2v1h-2zM490,71h2v1h-2zM493,71h2v1h-2zM496,71h2v1h-2zM499,71h2v1h-2zM502,71h2v1h-2zM505,71h2v1h-2zM508,71h2v1h-2zM511,71h2v1h-2zM514,71h2v1h-2zM517,71h2v1h-2zM520,71h2v1h-2zM523,71h2v1h-2zM526,71h2v1h-2zM529,71h2v1h-2zM532,71h2v1h-2zM535,71h2v1h-2zM538,71h2v1h-2zM541,71h2v1h-2zM544,71h2v1h-2zM547,71h2v1h-2zM550,71h2v1h-2zM553,71h2v1h-2zM556,71h2v1h-2zM559,71h2v1h-2zM562,71h2v1h-2zM565,71h2v1h-2zM568,71h2v1h-2zM571,71h2v1h-2zM574,71h2v1h-2zM577,71h2v1h-2zM580,71h2v1h-2zM71,141h1v1h-1zM73,141h2v1h-2zM76,141h2v1h-2zM79,141h2v1h-2zM82,141h2v1h-2zM85,141h2v1h-2zM88,141h2v1h-2zM91,141h2v1h-2zM94,141h2v1h-2zM97,141h2v1h-2zM100,141h2v1h-2zM103,141h2v1h-2zM106,141h2v1h-2zM109,141h2v1h-2zM112,141h2v1h-2zM115,141h2v1h-2zM118,141h2v1h-2zM121,141h2v1h-2zM124,141h2v1h-2zM127,141h2v1h-2zM130,141h2v1h-2zM133,141h2v1h-2zM136,141h2v1h-2zM139,141h2v1h-2zM142,141h2v1h-2zM145,141h2v1h-2zM148,141h2v1h-2zM151,141h2v1h-2zM154,141h2v1h-2zM157,141h2v1h-2zM160,141h2v1h-2zM163,141h2v1h-2zM166,141h2v1h-2zM169,141h2v1h-2zM172,141h2v1h-2zM175,141h2v1h-2zM178,141h2v1h-2zM181,141h2v1h-2zM184,141h2v1h-2zM187,141h2v1h-2zM190,141h2v1h-2zM193,141h2v1h-2zM196,141h2v1h-2zM199,141h2v1h-2zM202,141h2v1h-2zM205,141h2v1h-2zM208,141h2v1h-2zM211,141h2v1h-2zM214,141h2v1h-2zM217,141h2v1h-2zM220,141h2v1h-2zM223,141h2v1h-2zM226,141h2v1h-2zM229,141h2v1h-2zM232,141h2v1h-2zM235,141h2v1h-2zM238,141h2v1h-2zM241,141h2v1h-2zM244,141h2v1h-2zM247,141h2v1h-2zM250,141h2v1h-2zM253,141h2v1h-2zM256,141h2v1h-2zM259,141h2v1h-2zM262,141h2v1h-2zM265,141h2v1h-2zM268,141h2v1h-2zM271,141h2v1h-2zM274,141h2v1h-2zM277,141h2v1h-2zM280,141h2v1h-2zM283,141h2v1h-2zM286,141h2v1h-2zM289,141h2v1h-2zM292,141h2v1h-2zM295,141h2v1h-2zM298,141h2v1h-2zM301,141h2v1h-2zM304,141h2v1h-2zM307,141h2v1h-2zM310,141h2v1h-2zM313,141h2v1h-2zM316,141h2v1h-2zM319,141h2v1h-2zM322,141h2v1h-2zM325,141h2v1h-2zM328,141h2v1h-2zM331,141h2v1h-2zM334,141h2v1h-2zM337,141h2v1h-2zM340,141h2v1h-2zM343,141h2v1h-2zM346,141h2v1h-2zM349,141h2v1h-2zM352,141h2v1h-2zM355,141h2v1h-2zM358,141h2v1h-2zM361,141h2v1h-2zM364,141h2v1h-2zM367,141h2v1h-2zM370,141h2v1h-2zM373,141h2v1h-2zM376,141h2v1h-2zM379,141h2v1h-2zM382,141h2v1h-2zM385,141h2v1h-2zM388,141h2v1h-2zM391,141h2v1h-2zM394,141h2v1h-2zM397,141h2v1h-2zM400,141h2v1h-2zM403,141h2v1h-2zM406,141h2v1h-2zM409,141h2v1h-2zM412,141h2v1h-2zM415,141h2v1h-2zM418,141h2v1h-2zM421,141h2v1h-2zM424,141h2v1h-2zM427,141h2v1h-2zM430,141h2v1h-2zM433,141h2v1h-2zM436,141h2v1h-2zM439,141h2v1h-2zM442,141h2v1h-2zM445,141h2v1h-2zM448,141h2v1h-2zM451,141h2v1h-2zM454,141h2v1h-2zM457,141h2v1h-2zM460,141h2v1h-2zM463,141h2v1h-2zM466,141h2v1h-2zM469,141h2v1h-2zM472,141h2v1h-2zM475,141h2v1h-2zM478,141h2v1h-2zM481,141h2v1h-2zM484,141h2v1h-2zM487,141h2v1h-2zM490,141h2v1h-2zM493,141h2v1h-2zM496,141h2v1h-2zM499,141h2v1h-2zM502,141h2v1h-2zM505,141h2v1h-2zM508,141h2v1h-2zM511,141h2v1h-2zM514,141h2v1h-2zM517,141h2v1h-2zM520,141h2v1h-2zM523,141h2v1h-2zM526,141h2v1h-2zM529,141h2v1h-2zM532,141h2v1h-2zM535,141h2v1h-2zM538,141h2v1h-2zM541,141h2v1h-2zM544,141h2v1h-2zM547,141h2v1h-2zM550,141h2v1h-2zM553,141h2v1h-2zM556,141h2v1h-2zM559,141h2v1h-2zM562,141h2v1h-2zM565,141h2v1h-2zM568,141h2v1h-2zM571,141h2v1h-2zM574,141h2v1h-2zM577,141h2v1h-2zM580,141h2v1h-2zM71,212h1v1h-1zM73,212h2v1h-2zM76,212h2v1h-2zM79,212h2v1h-2zM82,212h2v1h-2zM85,212h2v1h-2zM88,212h2v1h-2zM91,212h2v1h-2zM94,212h2v1h-2zM97,212h2v1h-2zM100,212h2v1h-2zM103,212h2v1h-2zM106,212h2v1h-2zM109,212h2v1h-2zM112,212h2v1h-2zM115,212h2v1h-2zM118,212h2v1h-2zM121,212h2v1h-2zM124,212h2v1h-2zM127,212h2v1h-2zM130,212h2v1h-2zM133,212h2v1h-2zM136,212h2v1h-2zM139,212h2v1h-2zM142,212h2v1h-2zM145,212h2v1h-2zM148,212h2v1h-2zM151,212h2v1h-2zM154,212h2v1h-2zM157,212h2v1h-2zM160,212h2v1h-2zM163,212h2v1h-2zM166,212h2v1h-2zM169,212h2v1h-2zM172,212h2v1h-2zM175,212h2v1h-2zM178,212h2v1h-2zM181,212h2v1h-2zM184,212h2v1h-2zM187,212h2v1h-2zM190,212h2v1h-2zM193,212h2v1h-2zM196,212h2v1h-2zM199,212h2v1h-2zM202,212h2v1h-2zM205,212h2v1h-2zM208,212h2v1h-2zM211,212h2v1h-2zM214,212h2v1h-2zM217,212h2v1h-2zM220,212h2v1h-2zM223,212h2v1h-2zM226,212h2v1h-2zM229,212h2v1h-2zM232,212h2v1h-2zM235,212h2v1h-2zM238,212h2v1h-2zM241,212h2v1h-2zM244,212h2v1h-2zM247,212h2v1h-2zM250,212h2v1h-2zM253,212h2v1h-2zM256,212h2v1h-2zM259,212h2v1h-2zM262,212h2v1h-2zM265,212h2v1h-2zM268,212h2v1h-2zM271,212h2v1h-2zM274,212h2v1h-2zM277,212h2v1h-2zM280,212h2v1h-2zM283,212h2v1h-2zM286,212h2v1h-2zM289,212h2v1h-2zM292,212h2v1h-2zM295,212h2v1h-2zM298,212h2v1h-2zM301,212h2v1h-2zM304,212h2v1h-2zM307,212h2v1h-2zM310,212h2v1h-2zM313,212h2v1h-2zM316,212h2v1h-2zM319,212h2v1h-2zM322,212h2v1h-2zM325,212h2v1h-2zM328,212h2v1h-2zM331,212h2v1h-2zM334,212h2v1h-2zM337,212h2v1h-2zM340,212h2v1h-2zM343,212h2v1h-2zM346,212h2v1h-2zM349,212h2v1h-2zM352,212h2v1h-2zM355,212h2v1h-2zM358,212h2v1h-2zM361,212h2v1h-2zM364,212h2v1h-2zM367,212h2v1h-2zM370,212h2v1h-2zM373,212h2v1h-2zM376,212h2v1h-2zM379,212h2v1h-2zM382,212h2v1h-2zM385,212h2v1h-2zM388,212h2v1h-2zM391,212h2v1h-2zM394,212h2v1h-2zM397,212h2v1h-2zM400,212h2v1h-2zM403,212h2v1h-2zM406,212h2v1h-2zM409,212h2v1h-2zM412,212h2v1h-2zM415,212h2v1h-2zM418,212h2v1h-2zM421,212h2v1h-2zM424,212h2v1h-2zM427,212h2v1h-2zM430,212h2v1h-2zM433,212h2v1h-2zM436,212h2v1h-2zM439,212h2v1h-2zM442,212h2v1h-2zM445,212h2v1h-2zM448,212h2v1h-2zM451,212h2v1h-2zM454,212h2v1h-2zM457,212h2v1h-2zM460,212h2v1h-2zM463,212h2v1h-2zM466,212h2v1h-2zM469,212h2v1h-2zM472,212h2v1h-2zM475,212h2v1h-2zM478,212h2v1h-2zM481,212h2v1h-2zM484,212h2v1h-2zM487,212h2v1h-2zM490,212h2v1h-2zM493,212h2v1h-2zM496,212h2v1h-2zM499,212h2v1h-2zM502,212h2v1h-2zM505,212h2v1h-2zM508,212h2v1h-2zM511,212h2v1h-2zM514,212h2v1h-2zM517,212h2v1h-2zM520,212h2v1h-2zM523,212h2v1h-2zM526,212h2v1h-2zM529,212h2v1h-2zM532,212h2v1h-2zM535,212h2v1h-2zM538,212h2v1h-2zM541,212h2v1h-2zM544,212h2v1h-2zM547,212h2v1h-2zM550,212h2v1h-2zM553,212h2v1h-2zM556,212h2v1h-2zM559,212h2v1h-2zM562,212h2v1h-2zM565,212h2v1h-2zM568,212h2v1h-2zM571,212h2v1h-2zM574,212h2v1h-2zM577,212h2v1h-2zM580,212h2v1h-2zM71,283h1v1h-1zM73,283h2v1h-2zM76,283h2v1h-2zM79,283h2v1h-2zM82,283h2v1h-2zM85,283h2v1h-2zM88,283h2v1h-2zM91,283h2v1h-2zM94,283h2v1h-2zM97,283h2v1h-2zM100,283h2v1h-2zM103,283h2v1h-2zM106,283h2v1h-2zM109,283h2v1h-2zM112,283h2v1h-2zM115,283h2v1h-2zM118,283h2v1h-2zM121,283h2v1h-2zM124,283h2v1h-2zM127,283h2v1h-2zM130,283h2v1h-2zM133,283h2v1h-2zM136,283h2v1h-2zM139,283h2v1h-2zM142,283h2v1h-2zM145,283h2v1h-2zM148,283h2v1h-2zM151,283h2v1h-2zM154,283h2v1h-2zM157,283h2v1h-2zM160,283h2v1h-2zM163,283h2v1h-2zM166,283h2v1h-2zM169,283h2v1h-2zM172,283h2v1h-2zM175,283h2v1h-2zM178,283h2v1h-2zM181,283h2v1h-2zM184,283h2v1h-2zM187,283h2v1h-2zM190,283h2v1h-2zM193,283h2v1h-2zM196,283h2v1h-2zM199,283h2v1h-2zM202,283h2v1h-2zM205,283h2v1h-2zM208,283h2v1h-2zM211,283h2v1h-2zM214,283h2v1h-2zM217,283h2v1h-2zM220,283h2v1h-2zM223,283h2v1h-2zM226,283h2v1h-2zM229,283h2v1h-2zM232,283h2v1h-2zM235,283h2v1h-2zM238,283h2v1h-2zM241,283h2v1h-2zM244,283h2v1h-2zM247,283h2v1h-2zM250,283h2v1h-2zM253,283h2v1h-2zM256,283h2v1h-2zM259,283h2v1h-2zM262,283h2v1h-2zM265,283h2v1h-2zM268,283h2v1h-2zM271,283h2v1h-2zM274,283h2v1h-2zM277,283h2v1h-2zM280,283h2v1h-2zM283,283h2v1h-2zM286,283h2v1h-2zM289,283h2v1h-2zM292,283h2v1h-2zM295,283h2v1h-2zM298,283h2v1h-2zM301,283h2v1h-2zM304,283h2v1h-2zM307,283h2v1h-2zM310,283h2v1h-2zM313,283h2v1h-2zM316,283h2v1h-2zM319,283h2v1h-2zM322,283h2v1h-2zM325,283h2v1h-2zM328,283h2v1h-2zM331,283h2v1h-2zM334,283h2v1h-2zM337,283h2v1h-2zM340,283h2v1h-2zM343,283h2v1h-2zM346,283h2v1h-2zM349,283h2v1h-2zM352,283h2v1h-2zM355,283h2v1h-2zM358,283h2v1h-2zM361,283h2v1h-2zM364,283h2v1h-2zM367,283h2v1h-2zM370,283h2v1h-2zM373,283h2v1h-2zM376,283h2v1h-2zM379,283h2v1h-2zM382,283h2v1h-2zM385,283h2v1h-2zM388,283h2v1h-2zM391,283h2v1h-2zM394,283h2v1h-2zM397,283h2v1h-2zM400,283h2v1h-2zM403,283h2v1h-2zM406,283h2v1h-2zM409,283h2v1h-2zM412,283h2v1h-2zM415,283h2v1h-2zM418,283h2v1h-2zM421,283h2v1h-2zM424,283h2v1h-2zM427,283h2v1h-2zM430,283h2v1h-2zM433,283h2v1h-2zM436,283h2v1h-2zM439,283h2v1h-2zM442,283h2v1h-2zM445,283h2v1h-2zM448,283h2v1h-2zM451,283h2v1h-2zM454,283h2v1h-2zM457,283h2v1h-2zM460,283h2v1h-2zM463,283h2v1h-2zM466,283h2v1h-2zM469,283h2v1h-2zM472,283h2v1h-2zM475,283h2v1h-2zM478,283h2v1h-2zM481,283h2v1h-2zM484,283h2v1h-2zM487,283h2v1h-2zM490,283h2v1h-2zM493,283h2v1h-2zM496,283h2v1h-2zM499,283h2v1h-2zM502,283h2v1h-2zM505,283h2v1h-2zM508,283h2v1h-2zM511,283h2v1h-2zM514,283h2v1h-2zM517,283h2v1h-2zM520,283h2v1h-2zM523,283h2v1h-2zM526,283h2v1h-2zM529,283h2v1h-2zM532,283h2v1h-2zM535,283h2v1h-2zM538,283h2v1h-2zM541,283h2v1h-2zM544,283h2v1h-2zM547,283h2v1h-2zM550,283h2v1h-2zM553,283h2v1h-2zM556,283h2v1h-2zM559,283h2v1h-2zM562,283h2v1h-2zM565,283h2v1h-2zM568,283h2v1h-2zM571,283h2v1h-2zM574,283h2v1h-2zM577,283h2v1h-2zM580,283h2v1h-2zM71,354h1v1h-1zM73,354h2v1h-2zM76,354h2v1h-2zM79,354h2v1h-2zM82,354h2v1h-2zM85,354h2v1h-2zM88,354h2v1h-2zM91,354h2v1h-2zM94,354h2v1h-2zM97,354h2v1h-2zM100,354h2v1h-2zM103,354h2v1h-2zM106,354h2v1h-2zM109,354h2v1h-2zM112,354h2v1h-2zM115,354h2v1h-2zM118,354h2v1h-2zM121,354h2v1h-2zM124,354h2v1h-2zM127,354h2v1h-2zM130,354h2v1h-2zM133,354h2v1h-2zM136,354h2v1h-2zM139,354h2v1h-2zM142,354h2v1h-2zM145,354h2v1h-2zM148,354h2v1h-2zM151,354h2v1h-2zM154,354h2v1h-2zM157,354h2v1h-2zM160,354h2v1h-2zM163,354h2v1h-2zM166,354h2v1h-2zM169,354h2v1h-2zM172,354h2v1h-2zM175,354h2v1h-2zM178,354h2v1h-2zM181,354h2v1h-2zM184,354h2v1h-2zM187,354h2v1h-2zM190,354h2v1h-2zM193,354h2v1h-2zM196,354h2v1h-2zM199,354h2v1h-2zM202,354h2v1h-2zM205,354h2v1h-2zM208,354h2v1h-2zM211,354h2v1h-2zM214,354h2v1h-2zM217,354h2v1h-2zM220,354h2v1h-2zM223,354h2v1h-2zM226,354h2v1h-2zM229,354h2v1h-2zM232,354h2v1h-2zM235,354h2v1h-2zM238,354h2v1h-2zM241,354h2v1h-2zM244,354h2v1h-2zM247,354h2v1h-2zM250,354h2v1h-2zM253,354h2v1h-2zM256,354h2v1h-2zM259,354h2v1h-2zM262,354h2v1h-2zM265,354h2v1h-2zM268,354h2v1h-2zM271,354h2v1h-2zM274,354h2v1h-2zM277,354h2v1h-2zM280,354h2v1h-2zM283,354h2v1h-2zM286,354h2v1h-2zM289,354h2v1h-2zM292,354h2v1h-2zM295,354h2v1h-2zM298,354h2v1h-2zM301,354h2v1h-2zM304,354h2v1h-2zM307,354h2v1h-2zM310,354h2v1h-2zM313,354h2v1h-2zM316,354h2v1h-2zM319,354h2v1h-2zM322,354h2v1h-2zM325,354h2v1h-2zM328,354h2v1h-2zM331,354h2v1h-2zM334,354h2v1h-2zM337,354h2v1h-2zM340,354h2v1h-2zM343,354h2v1h-2zM346,354h2v1h-2zM349,354h2v1h-2zM352,354h2v1h-2zM355,354h2v1h-2zM358,354h2v1h-2zM361,354h2v1h-2zM364,354h2v1h-2zM367,354h2v1h-2zM370,354h2v1h-2zM373,354h2v1h-2zM376,354h2v1h-2zM379,354h2v1h-2zM382,354h2v1h-2zM385,354h2v1h-2zM388,354h2v1h-2zM391,354h2v1h-2zM394,354h2v1h-2zM397,354h2v1h-2zM400,354h2v1h-2zM403,354h2v1h-2zM406,354h2v1h-2zM409,354h2v1h-2zM412,354h2v1h-2zM415,354h2v1h-2zM418,354h2v1h-2zM421,354h2v1h-2zM424,354h2v1h-2zM427,354h2v1h-2zM430,354h2v1h-2zM433,354h2v1h-2zM436,354h2v1h-2zM439,354h2v1h-2zM442,354h2v1h-2zM445,354h2v1h-2zM448,354h2v1h-2zM451,354h2v1h-2zM454,354h2v1h-2zM457,354h2v1h-2zM460,354h2v1h-2zM463,354h2v1h-2zM466,354h2v1h-2zM469,354h2v1h-2zM472,354h2v1h-2zM475,354h2v1h-2zM478,354h2v1h-2zM481,354h2v1h-2zM484,354h2v1h-2zM487,354h2v1h-2zM490,354h2v1h-2zM493,354h2v1h-2zM496,354h2v1h-2zM499,354h2v1h-2zM502,354h2v1h-2zM505,354h2v1h-2zM508,354h2v1h-2zM511,354h2v1h-2zM514,354h2v1h-2zM517,354h2v1h-2zM520,354h2v1h-2zM523,354h2v1h-2zM526,354h2v1h-2zM529,354h2v1h-2zM532,354h2v1h-2zM535,354h2v1h-2zM538,354h2v1h-2zM541,354h2v1h-2zM544,354h2v1h-2zM547,354h2v1h-2zM550,354h2v1h-2zM553,354h2v1h-2zM556,354h2v1h-2zM559,354h2v1h-2zM562,354h2v1h-2zM565,354h2v1h-2zM568,354h2v1h-2zM571,354h2v1h-2zM574,354h2v1h-2zM577,354h2v1h-2zM580,354h2v1h-2zM71,425h1v1h-1zM73,425h2v1h-2zM76,425h2v1h-2zM79,425h2v1h-2zM82,425h2v1h-2zM85,425h2v1h-2zM88,425h2v1h-2zM91,425h2v1h-2zM94,425h2v1h-2zM97,425h2v1h-2zM100,425h2v1h-2zM103,425h2v1h-2zM106,425h2v1h-2zM109,425h2v1h-2zM112,425h2v1h-2zM115,425h2v1h-2zM118,425h2v1h-2zM121,425h2v1h-2zM124,425h2v1h-2zM127,425h2v1h-2zM130,425h2v1h-2zM133,425h2v1h-2zM136,425h2v1h-2zM139,425h2v1h-2zM142,425h2v1h-2zM145,425h2v1h-2zM148,425h2v1h-2zM151,425h2v1h-2zM154,425h2v1h-2zM157,425h2v1h-2zM160,425h2v1h-2zM163,425h2v1h-2zM166,425h2v1h-2zM169,425h2v1h-2zM172,425h2v1h-2zM175,425h2v1h-2zM178,425h2v1h-2zM181,425h2v1h-2zM184,425h2v1h-2zM187,425h2v1h-2zM190,425h2v1h-2zM193,425h2v1h-2zM196,425h2v1h-2zM199,425h2v1h-2zM202,425h2v1h-2zM205,425h2v1h-2zM208,425h2v1h-2zM211,425h2v1h-2zM214,425h2v1h-2zM217,425h2v1h-2zM220,425h2v1h-2zM223,425h2v1h-2zM226,425h2v1h-2zM229,425h2v1h-2zM232,425h2v1h-2zM235,425h2v1h-2zM238,425h2v1h-2zM241,425h2v1h-2zM244,425h2v1h-2zM247,425h2v1h-2zM250,425h2v1h-2zM253,425h2v1h-2zM256,425h2v1h-2zM259,425h2v1h-2zM262,425h2v1h-2zM265,425h2v1h-2zM268,425h2v1h-2zM271,425h2v1h-2zM274,425h2v1h-2zM277,425h2v1h-2zM280,425h2v1h-2zM283,425h2v1h-2zM286,425h2v1h-2zM289,425h2v1h-2zM292,425h2v1h-2zM295,425h2v1h-2zM298,425h2v1h-2zM301,425h2v1h-2zM304,425h2v1h-2zM307,425h2v1h-2zM310,425h2v1h-2zM313,425h2v1h-2zM316,425h2v1h-2zM319,425h2v1h-2zM322,425h2v1h-2zM325,425h2v1h-2zM328,425h2v1h-2zM331,425h2v1h-2zM334,425h2v1h-2zM337,425h2v1h-2zM340,425h2v1h-2zM343,425h2v1h-2zM346,425h2v1h-2zM349,425h2v1h-2zM352,425h2v1h-2zM355,425h2v1h-2zM358,425h2v1h-2zM361,425h2v1h-2zM364,425h2v1h-2zM367,425h2v1h-2zM370,425h2v1h-2zM373,425h2v1h-2zM376,425h2v1h-2zM379,425h2v1h-2zM382,425h2v1h-2zM385,425h2v1h-2zM388,425h2v1h-2zM391,425h2v1h-2zM394,425h2v1h-2zM397,425h2v1h-2zM400,425h2v1h-2zM403,425h2v1h-2zM406,425h2v1h-2zM409,425h2v1h-2zM412,425h2v1h-2zM415,425h2v1h-2zM418,425h2v1h-2zM421,425h2v1h-2zM424,425h2v1h-2zM427,425h2v1h-2zM430,425h2v1h-2zM433,425h2v1h-2zM436,425h2v1h-2zM439,425h2v1h-2zM442,425h2v1h-2zM445,425h2v1h-2zM448,425h2v1h-2zM451,425h2v1h-2zM454,425h2v1h-2zM457,425h2v1h-2zM460,425h2v1h-2zM463,425h2v1h-2zM466,425h2v1h-2zM469,425h2v1h-2zM472,425h2v1h-2zM475,425h2v1h-2zM478,425h2v1h-2zM481,425h2v1h-2zM484,425h2v1h-2zM487,425h2v1h-2zM490,425h2v1h-2zM493,425h2v1h-2zM496,425h2v1h-2zM499,425h2v1h-2zM502,425h2v1h-2zM505,425h2v1h-2zM508,425h2v1h-2zM511,425h2v1h-2zM514,425h2v1h-2zM517,425h2v1h-2zM520,425h2v1h-2zM523,425h2v1h-2zM526,425h2v1h-2zM529,425h2v1h-2zM532,425h2v1h-2zM535,425h2v1h-2zM538,425h2v1h-2zM541,425h2v1h-2zM544,425h2v1h-2zM547,425h2v1h-2zM550,425h2v1h-2zM553,425h2v1h-2zM556,425h2v1h-2zM559,425h2v1h-2zM562,425h2v1h-2zM565,425h2v1h-2zM568,425h2v1h-2zM571,425h2v1h-2zM574,425h2v1h-2zM577,425h2v1h-2zM580,425h2v1h-2zM71,496h1v1h-1zM73,496h2v1h-2zM76,496h2v1h-2zM79,496h2v1h-2zM82,496h2v1h-2zM85,496h2v1h-2zM88,496h2v1h-2zM91,496h2v1h-2zM94,496h2v1h-2zM97,496h2v1h-2zM100,496h2v1h-2zM103,496h2v1h-2zM106,496h2v1h-2zM109,496h2v1h-2zM112,496h2v1h-2zM115,496h2v1h-2zM118,496h2v1h-2zM121,496h2v1h-2zM124,496h2v1h-2zM127,496h2v1h-2zM130,496h2v1h-2zM133,496h2v1h-2zM136,496h2v1h-2zM139,496h2v1h-2zM142,496h2v1h-2zM145,496h2v1h-2zM148,496h2v1h-2zM151,496h2v1h-2zM154,496h2v1h-2zM157,496h2v1h-2zM160,496h2v1h-2zM163,496h2v1h-2zM166,496h2v1h-2zM169,496h2v1h-2zM172,496h2v1h-2zM175,496h2v1h-2zM178,496h2v1h-2zM181,496h2v1h-2zM184,496h2v1h-2zM187,496h2v1h-2zM190,496h2v1h-2zM193,496h2v1h-2zM196,496h2v1h-2zM199,496h2v1h-2zM202,496h2v1h-2zM205,496h2v1h-2zM208,496h2v1h-2zM211,496h2v1h-2zM214,496h2v1h-2zM217,496h2v1h-2zM220,496h2v1h-2zM223,496h2v1h-2zM226,496h2v1h-2zM229,496h2v1h-2zM232,496h2v1h-2zM235,496h2v1h-2zM238,496h2v1h-2zM241,496h2v1h-2zM244,496h2v1h-2zM247,496h2v1h-2zM250,496h2v1h-2zM253,496h2v1h-2zM256,496h2v1h-2zM259,496h2v1h-2zM262,496h2v1h-2zM265,496h2v1h-2zM268,496h2v1h-2zM271,496h2v1h-2zM274,496h2v1h-2zM277,496h2v1h-2zM280,496h2v1h-2zM283,496h2v1h-2zM286,496h2v1h-2zM289,496h2v1h-2zM292,496h2v1h-2zM295,496h2v1h-2zM298,496h2v1h-2zM301,496h2v1h-2zM304,496h2v1h-2zM307,496h2v1h-2zM310,496h2v1h-2zM313,496h2v1h-2zM316,496h2v1h-2zM319,496h2v1h-2zM322,496h2v1h-2zM325,496h2v1h-2zM328,496h2v1h-2zM331,496h2v1h-2zM334,496h2v1h-2zM337,496h2v1h-2zM340,496h2v1h-2zM343,496h2v1h-2zM346,496h2v1h-2zM349,496h2v1h-2zM352,496h2v1h-2zM355,496h2v1h-2zM358,496h2v1h-2zM361,496h2v1h-2zM364,496h2v1h-2zM367,496h2v1h-2zM370,496h2v1h-2zM373,496h2v1h-2zM376,496h2v1h-2zM379,496h2v1h-2zM382,496h2v1h-2zM385,496h2v1h-2zM388,496h2v1h-2zM391,496h2v1h-2zM394,496h2v1h-2zM397,496h2v1h-2zM400,496h2v1h-2zM403,496h2v1h-2zM406,496h2v1h-2zM409,496h2v1h-2zM412,496h2v1h-2zM415,496h2v1h-2zM418,496h2v1h-2zM421,496h2v1h-2zM424,496h2v1h-2zM427,496h2v1h-2zM430,496h2v1h-2zM433,496h2v1h-2zM436,496h2v1h-2zM439,496h2v1h-2zM442,496h2v1h-2zM445,496h2v1h-2zM448,496h2v1h-2zM451,496h2v1h-2zM454,496h2v1h-2zM457,496h2v1h-2zM460,496h2v1h-2zM463,496h2v1h-2zM466,496h2v1h-2zM469,496h2v1h-2zM472,496h2v1h-2zM475,496h2v1h-2zM478,496h2v1h-2zM481,496h2v1h-2zM484,496h2v1h-2zM487,496h2v1h-2zM490,496h2v1h-2zM493,496h2v1h-2zM496,496h2v1h-2zM499,496h2v1h-2zM502,496h2v1h-2zM505,496h2v1h-2zM508,496h2v1h-2zM511,496h2v1h-2zM514,496h2v1h-2zM517,496h2v1h-2zM520,496h2v1h-2zM523,496h2v1h-2zM526,496h2v1h-2zM529,496h2v1h-2zM532,496h2v1h-2zM535,496h2v1h-2zM538,496h2v1h-2zM541,496h2v1h-2zM544,496h2v1h-2zM547,496h2v1h-2zM550,496h2v1h-2zM553,496h2v1h-2zM556,496h2v1h-2zM559,496h2v1h-2zM562,496h2v1h-2zM565,496h2v1h-2zM568,496h2v1h-2zM571,496h2v1h-2zM574,496h2v1h-2zM577,496h2v1h-2zM580,496h2v1h-2zM71,567h1v1h-1zM73,567h2v1h-2zM76,567h2v1h-2zM79,567h2v1h-2zM82,567h2v1h-2zM85,567h2v1h-2zM88,567h2v1h-2zM91,567h2v1h-2zM94,567h2v1h-2zM97,567h2v1h-2zM100,567h2v1h-2zM103,567h2v1h-2zM106,567h2v1h-2zM109,567h2v1h-2zM112,567h2v1h-2zM115,567h2v1h-2zM118,567h2v1h-2zM121,567h2v1h-2zM124,567h2v1h-2zM127,567h2v1h-2zM130,567h2v1h-2zM133,567h2v1h-2zM136,567h2v1h-2zM139,567h2v1h-2zM142,567h2v1h-2zM145,567h2v1h-2zM148,567h2v1h-2zM151,567h2v1h-2zM154,567h2v1h-2zM157,567h2v1h-2zM160,567h2v1h-2zM163,567h2v1h-2zM166,567h2v1h-2zM169,567h2v1h-2zM172,567h2v1h-2zM175,567h2v1h-2zM178,567h2v1h-2zM181,567h2v1h-2zM184,567h2v1h-2zM187,567h2v1h-2zM190,567h2v1h-2zM193,567h2v1h-2zM196,567h2v1h-2zM199,567h2v1h-2zM202,567h2v1h-2zM205,567h2v1h-2zM208,567h2v1h-2zM211,567h2v1h-2zM214,567h2v1h-2zM217,567h2v1h-2zM220,567h2v1h-2zM223,567h2v1h-2zM226,567h2v1h-2zM229,567h2v1h-2zM232,567h2v1h-2zM235,567h2v1h-2zM238,567h2v1h-2zM241,567h2v1h-2zM244,567h2v1h-2zM247,567h2v1h-2zM250,567h2v1h-2zM253,567h2v1h-2zM256,567h2v1h-2zM259,567h2v1h-2zM262,567h2v1h-2zM265,567h2v1h-2zM268,567h2v1h-2zM271,567h2v1h-2zM274,567h2v1h-2zM277,567h2v1h-2zM280,567h2v1h-2zM283,567h2v1h-2zM286,567h2v1h-2zM289,567h2v1h-2zM292,567h2v1h-2zM295,567h2v1h-2zM298,567h2v1h-2zM301,567h2v1h-2zM304,567h2v1h-2zM307,567h2v1h-2zM310,567h2v1h-2zM313,567h2v1h-2zM316,567h2v1h-2zM319,567h2v1h-2zM322,567h2v1h-2zM325,567h2v1h-2zM328,567h2v1h-2zM331,567h2v1h-2zM334,567h2v1h-2zM337,567h2v1h-2zM340,567h2v1h-2zM343,567h2v1h-2zM346,567h2v1h-2zM349,567h2v1h-2zM352,567h2v1h-2zM355,567h2v1h-2zM358,567h2v1h-2zM361,567h2v1h-2zM364,567h2v1h-2zM367,567h2v1h-2zM370,567h2v1h-2zM373,567h2v1h-2zM376,567h2v1h-2zM379,567h2v1h-2zM382,567h2v1h-2zM385,567h2v1h-2zM388,567h2v1h-2zM391,567h2v1h-2zM394,567h2v1h-2zM397,567h2v1h-2zM400,567h2v1h-2zM403,567h2v1h-2zM406,567h2v1h-2zM409,567h2v1h-2zM412,567h2v1h-2zM415,567h2v1h-2zM418,567h2v1h-2zM421,567h2v1h-2zM424,567h2v1h-2zM427,567h2v1h-2zM430,567h2v1h-2zM433,567h2v1h-2zM436,567h2v1h-2zM439,567h2v1h-2zM442,567h2v1h-2zM445,567h2v1h-2zM448,567h2v1h-2zM451,567h2v1h-2zM454,567h2v1h-2zM457,567h2v1h-2zM460,567h2v1h-2zM463,567h2v1h-2zM466,567h2v1h-2zM469,567h2v1h-2zM472,567h2v1h-2zM475,567h2v1h-2zM478,567h2v1h-2zM481,567h2v1h-2zM484,567h2v1h-2zM487,567h2v1h-2zM490,567h2v1h-2zM493,567h2v1h-2zM496,567h2v1h-2zM499,567h2v1h-2zM502,567h2v1h-2zM505,567h2v1h-2zM508,567h2v1h-2zM511,567h2v1h-2zM514,567h2v1h-2zM517,567h2v1h-2zM520,567h2v1h-2zM523,567h2v1h-2zM526,567h2v1h-2zM529,567h2v1h-2zM532,567h2v1h-2zM535,567h2v1h-2zM538,567h2v1h-2zM541,567h2v1h-2zM544,567h2v1h-2zM547,567h2v1h-2zM550,567h2v1h-2zM553,567h2v1h-2zM556,567h2v1h-2zM559,567h2v1h-2zM562,567h2v1h-2zM565,567h2v1h-2zM568,567h2v1h-2zM571,567h2v1h-2zM574,567h2v1h-2zM577,567h2v1h-2zM580,567h2v1h-2z" fill="#0000ff"/>
<path d="M80,633h1v6h-1zM93,629h1v10h-1zM106,633h1v6h-1zM119,633h1v6h-1zM131,633h1v6h-1zM144,633h1v6h-1zM157,629h1v10h-1zM170,633h1v6h-1zM182,633h1v6h-1zM195,633h1v6h-1zM208,633h1v6h-1zM221,629h1v10h-1zM234,633h1v6h-1zM246,633h1v6h-1zM259,633h1v6h-1zM272,633h1v6h-1zM285,629h1v10h-1zM297,633h1v6h-1zM310,633h1v6h-1zM323,633h1v6h-1zM336,633h1v6h-1zM348,629h1v10h-1zM361,633h1v6h-1zM374,633h1v6h-1zM387,633h1v6h-1zM399,633h1v6h-1zM412,629h1v10h-1zM425,633h1v6h-1zM438,633h1v6h-1zM450,633h1v6h-1zM463,633h1v6h-1zM476,629h1v10h-1zM489,633h1v6h-1zM501,633h1v6h-1zM514,633h1v6h-1zM527,633h1v6h-1zM540,629h1v10h-1zM553,633h1v6h-1zM565,633h1v6h-1zM578,633h1v6h-1zM71,71h10v1h-10zM71,85h5v1h-5zM71,99h5v1h-5zM71,113h5v1h-5zM71,127h5v1h-5zM71,141h10v1h-10zM71,156h5v1h-5zM71,170h5v1h-5zM71,184h5v1h-5zM71,198h5v1h-5zM71,212h10v1h-10zM71,226h5v1h-5zM71,241h5v1h-5zM71,255h5v1h-5zM71,269h5v1h-5zM71,283h10v1h-10zM71,297h5v1h-5zM71,311h5v1h-5zM71,326h5v1h-5zM71,340h5v1h-5zM71,354h10v1h-10zM71,368h5v1h-5zM71,382h5v1h-5zM71,397h5v1h-5zM71,411h5v1h-5zM71,425h10v1h-10zM71,439h5v1h-5zM71,453h5v1h-5zM71,467h5v1h-5zM71,482h5v1h-5zM71,496h10v1h-10zM71,510h5v1h-5zM71,524h5v1h-5zM71,538h5v1h-5zM71,552h5v1h-5zM71,567h10v1h-10zM71,581h5v1h-5zM71,595h5v1h-5zM71,609h5v1h-5zM71,623h5v1h-5zM71,638h10v1h-10z" fill="#0000ff"/>
<path d="M354,71h228v1h-228z M354,93h228v1h-228z M354,71h1v23h-1z M581,71h1v23h-1z" fill="#0000ff"/>
<defs><filter id="crisp" x="-5%" y="-20%" width="110%" height="140%"><feComponentTransfer><feFuncA type="discrete" tableValues="0 1"/></feComponentTransfer></filter></defs>
<text filter="url(#crisp)" x="311.2" y="46" text-anchor="middle" style="font-family:&quot;Liberation Serif&quot;,serif;font-weight:bold;font-size:25px" fill="#0000ff">HSTPHOT: Field lmc_u4b107</text>
<path d="M86,648h8v1h-8zM98,643h1v1h-1zM97,644h2v1h-2zM96,645h1v1h-1zM98,645h1v1h-1zM98,646h1v1h-1zM98,647h1v1h-1zM98,648h1v1h-1zM98,649h1v1h-1zM98,650h1v1h-1zM98,651h1v1h-1zM144,648h8v1h-8zM155,643h4v1h-4zM154,644h1v1h-1zM159,644h1v1h-1zM154,645h1v1h-1zM159,645h1v1h-1zM154,646h1v1h-1zM159,646h1v1h-1zM154,647h1v1h-1zM159,647h1v1h-1zM154,648h1v1h-1zM159,648h1v1h-1zM154,649h1v1h-1zM159,649h1v1h-1zM154,650h1v1h-1zM159,650h1v1h-1zM155,651h4v1h-4zM161,651h2v1h-2zM165,643h5v1h-5zM165,644h1v1h-1zM165,645h1v1h-1zM165,646h4v1h-4zM169,647h1v1h-1zM170,648h1v1h-1zM165,649h1v1h-1zM170,649h1v1h-1zM165,650h1v1h-1zM169,650h1v1h-1zM166,651h4v1h-4zM219,643h4v1h-4zM218,644h1v1h-1zM223,644h1v1h-1zM218,645h1v1h-1zM223,645h1v1h-1zM218,646h1v1h-1zM223,646h1v1h-1zM218,647h1v1h-1zM223,647h1v1h-1zM218,648h1v1h-1zM223,648h1v1h-1zM218,649h1v1h-1zM223,649h1v1h-1zM218,650h1v1h-1zM223,650h1v1h-1zM219,651h4v1h-4zM277,643h4v1h-4zM276,644h1v1h-1zM281,644h1v1h-1zM276,645h1v1h-1zM281,645h1v1h-1zM276,646h1v1h-1zM281,646h1v1h-1zM276,647h1v1h-1zM281,647h1v1h-1zM276,648h1v1h-1zM281,648h1v1h-1zM276,649h1v1h-1zM281,649h1v1h-1zM276,650h1v1h-1zM281,650h1v1h-1zM277,651h4v1h-4zM284,651h2v1h-2zM288,643h5v1h-5zM288,644h1v1h-1zM288,645h1v1h-1zM288,646h4v1h-4zM292,647h1v1h-1zM293,648h1v1h-1zM288,649h1v1h-1zM293,649h1v1h-1zM288,650h1v1h-1zM292,650h1v1h-1zM289,651h4v1h-4zM349,643h1v1h-1zM348,644h2v1h-2zM347,645h1v1h-1zM349,645h1v1h-1zM349,646h1v1h-1zM349,647h1v1h-1zM349,648h1v1h-1zM349,649h1v1h-1zM349,650h1v1h-1zM349,651h1v1h-1zM407,643h1v1h-1zM406,644h2v1h-2zM405,645h1v1h-1zM407,645h1v1h-1zM407,646h1v1h-1zM407,647h1v1h-1zM407,648h1v1h-1zM407,649h1v1h-1zM407,650h1v1h-1zM407,651h1v1h-1zM412,651h2v1h-2zM415,643h5v1h-5zM415,644h1v1h-1zM415,645h1v1h-1zM415,646h4v1h-4zM419,647h1v1h-1zM420,648h1v1h-1zM415,649h1v1h-1zM420,649h1v1h-1zM415,650h1v1h-1zM419,650h1v1h-1zM416,651h4v1h-4zM475,643h2v1h-2zM473,644h2v1h-2zM477,644h2v1h-2zM473,645h1v1h-1zM478,645h1v1h-1zM478,646h1v1h-1zM477,647h1v1h-1zM476,648h1v1h-1zM475,649h1v1h-1zM474,650h1v1h-1zM473,651h6v1h-6zM533,643h2v1h-2zM531,644h2v1h-2zM535,644h2v1h-2zM531,645h1v1h-1zM536,645h1v1h-1zM536,646h1v1h-1zM535,647h1v1h-1zM534,648h1v1h-1zM533,649h1v1h-1zM532,650h1v1h-1zM531,651h6v1h-6zM539,651h2v1h-2zM543,643h5v1h-5zM543,644h1v1h-1zM543,645h1v1h-1zM543,646h4v1h-4zM547,647h1v1h-1zM548,648h1v1h-1zM543,649h1v1h-1zM548,649h1v1h-1zM543,650h1v1h-1zM547,650h1v1h-1zM544,651h4v1h-4zM51,67h2v1h-2zM49,68h2v1h-2zM53,68h2v1h-2zM49,69h1v1h-1zM54,69h1v1h-1zM54,70h1v1h-1zM53,71h1v1h-1zM52,72h1v1h-1zM51,73h1v1h-1zM50,74h1v1h-1zM49,75h6v1h-6zM58,67h4v1h-4zM57,68h1v1h-1zM62,68h1v1h-1zM57,69h1v1h-1zM62,69h1v1h-1zM57,70h1v1h-1zM62,70h1v1h-1zM57,71h1v1h-1zM62,71h1v1h-1zM57,72h1v1h-1zM62,72h1v1h-1zM57,73h1v1h-1zM62,73h1v1h-1zM57,74h1v1h-1zM62,74h1v1h-1zM58,75h4v1h-4zM51,137h2v1h-2zM49,138h2v1h-2zM53,138h2v1h-2zM49,139h1v1h-1zM54,139h1v1h-1zM54,140h1v1h-1zM53,141h1v1h-1zM52,142h1v1h-1zM51,143h1v1h-1zM50,144h1v1h-1zM49,145h6v1h-6zM60,137h1v1h-1zM59,138h2v1h-2zM58,139h1v1h-1zM60,139h1v1h-1zM60,140h1v1h-1zM60,141h1v1h-1zM60,142h1v1h-1zM60,143h1v1h-1zM60,144h1v1h-1zM60,145h1v1h-1zM51,208h2v1h-2zM49,209h2v1h-2zM53,209h2v1h-2zM49,210h1v1h-1zM54,210h1v1h-1zM54,211h1v1h-1zM53,212h1v1h-1zM52,213h1v1h-1zM51,214h1v1h-1zM50,215h1v1h-1zM49,216h6v1h-6zM59,208h2v1h-2zM57,209h2v1h-2zM61,209h2v1h-2zM57,210h1v1h-1zM62,210h1v1h-1zM62,211h1v1h-1zM61,212h1v1h-1zM60,213h1v1h-1zM59,214h1v1h-1zM58,215h1v1h-1zM57,216h6v1h-6zM51,279h2v1h-2zM49,280h2v1h-2zM53,280h2v1h-2zM49,281h1v1h-1zM54,281h1v1h-1zM54,282h1v1h-1zM53,283h1v1h-1zM52,284h1v1h-1zM51,285h1v1h-1zM50,286h1v1h-1zM49,287h6v1h-6zM57,279h6v1h-6zM61,280h1v1h-1zM60,281h1v1h-1zM59,282h3v1h-3zM62,283h1v1h-1zM62,284h1v1h-1zM62,285h1v1h-1zM57,286h1v1h-1zM62,286h1v1h-1zM58,287h4v1h-4zM51,350h2v1h-2zM49,351h2v1h-2zM53,351h2v1h-2zM49,352h1v1h-1zM54,352h1v1h-1zM54,353h1v1h-1zM53,354h1v1h-1zM52,355h1v1h-1zM51,356h1v1h-1zM50,357h1v1h-1zM49,358h6v1h-6zM60,350h1v1h-1zM59,351h2v1h-2zM58,352h1v1h-1zM60,352h1v1h-1zM58,353h1v1h-1zM60,353h1v1h-1zM57,354h1v1h-1zM60,354h1v1h-1zM57,355h6v1h-6zM60,356h1v1h-1zM60,357h1v1h-1zM60,358h1v1h-1zM51,421h2v1h-2zM49,422h2v1h-2zM53,422h2v1h-2zM49,423h1v1h-1zM54,423h1v1h-1zM54,424h1v1h-1zM53,425h1v1h-1zM52,426h1v1h-1zM51,427h1v1h-1zM50,428h1v1h-1zM49,429h6v1h-6zM57,421h5v1h-5zM57,422h1v1h-1zM57,423h1v1h-1zM57,424h4v1h-4zM61,425h1v1h-1zM62,426h1v1h-1zM57,427h1v1h-1zM62,427h1v1h-1zM57,428h1v1h-1zM61,428h1v1h-1zM58,429h4v1h-4zM51,492h2v1h-2zM49,493h2v1h-2zM53,493h2v1h-2zM49,494h1v1h-1zM54,494h1v1h-1zM54,495h1v1h-1zM53,496h1v1h-1zM52,497h1v1h-1zM51,498h1v1h-1zM50,499h1v1h-1zM49,500h6v1h-6zM58,492h4v1h-4zM57,493h1v1h-1zM61,493h1v1h-1zM57,494h1v1h-1zM57,495h5v1h-5zM57,496h1v1h-1zM62,496h1v1h-1zM57,497h1v1h-1zM62,497h1v1h-1zM57,498h1v1h-1zM62,498h1v1h-1zM57,499h1v1h-1zM61,499h1v1h-1zM58,500h4v1h-4zM51,563h2v1h-2zM49,564h2v1h-2zM53,564h2v1h-2zM49,565h1v1h-1zM54,565h1v1h-1zM54,566h1v1h-1zM53,567h1v1h-1zM52,568h1v1h-1zM51,569h1v1h-1zM50,570h1v1h-1zM49,571h6v1h-6zM57,563h6v1h-6zM61,564h1v1h-1zM61,565h1v1h-1zM60,566h1v1h-1zM60,567h1v1h-1zM59,568h1v1h-1zM59,569h1v1h-1zM58,570h1v1h-1zM58,571h1v1h-1zM51,634h2v1h-2zM49,635h2v1h-2zM53,635h2v1h-2zM49,636h1v1h-1zM54,636h1v1h-1zM54,637h1v1h-1zM53,638h1v1h-1zM52,639h1v1h-1zM51,640h1v1h-1zM50,641h1v1h-1zM49,642h6v1h-6zM57,634h5v1h-5zM57,635h1v1h-1zM61,635h1v1h-1zM57,636h1v1h-1zM61,636h1v1h-1zM58,637h3v1h-3zM57,638h1v1h-1zM62,638h1v1h-1zM57,639h1v1h-1zM62,639h1v1h-1zM57,640h1v1h-1zM62,640h1v1h-1zM57,641h1v1h-1zM61,641h1v1h-1zM58,642h4v1h-4z" fill="#0000ff"/>
<path d="M176.50,660.52L176.50,689.50M176.50,660.52L194.44,660.52M176.50,674.32L187.54,674.32M215.15,660.52L201.35,660.52L199.97,672.94L201.35,671.56L205.49,670.18L209.63,670.18L213.77,671.56L216.53,674.32L217.91,678.46L217.91,681.22L216.53,685.36L213.77,688.12L209.63,689.50L205.49,689.50L201.35,688.12L199.97,686.74L198.59,683.98M241.70,660.52L227.90,660.52L226.52,672.94L227.90,671.56L232.04,670.18L236.18,670.18L240.32,671.56L243.08,674.32L244.46,678.46L244.46,681.22L243.08,685.36L240.32,688.12L236.18,689.50L232.04,689.50L227.90,688.12L226.52,686.74L225.14,683.98M269.00,660.52L255.20,660.52L253.82,672.94L255.20,671.56L259.34,670.18L263.48,670.18L267.62,671.56L270.38,674.32L271.76,678.46L271.76,681.22L270.38,685.36L267.62,688.12L263.48,689.50L259.34,689.50L255.20,688.12L253.82,686.74L252.44,683.98M278.10,660.52L285.00,689.50L291.90,660.52L298.80,689.50L305.70,660.52M314.00,677.08L338.84,677.08M349.40,660.52L349.40,689.50M349.40,660.52L367.34,660.52M349.40,674.32L360.44,674.32M389.10,666.18L389.00,665.36L388.73,664.56L388.27,663.80L387.65,663.10L386.87,662.47L385.97,661.94L384.95,661.51L383.85,661.19L382.70,661.00L381.51,660.93L380.32,661.00L379.16,661.19L378.06,661.51L377.05,661.94L376.14,662.47L375.37,663.10L374.75,663.80L374.29,664.56L374.01,665.36L373.92,666.18L374.01,667.00L374.29,667.80L374.75,668.56L375.37,669.26L376.14,669.89L377.05,670.42L378.06,670.85L379.16,671.17L380.32,671.36L381.51,671.42L382.70,671.36L383.85,671.17L384.95,670.85L385.97,670.42L386.87,669.89L387.65,669.26L388.27,668.56L388.73,667.80L389.00,667.00L389.10,666.18M391.17,680.60L391.06,679.33L390.72,678.08L390.18,676.90L389.43,675.81L388.50,674.84L387.41,674.01L386.19,673.34L384.87,672.86L383.48,672.56L382.06,672.46L380.64,672.56L379.25,672.86L377.93,673.34L376.71,674.01L375.62,674.84L374.69,675.81L373.94,676.90L373.40,678.08L373.06,679.33L372.95,680.60L373.06,681.87L373.40,683.12L373.94,684.30L374.69,685.38L375.62,686.36L376.71,687.19L377.93,687.85L379.25,688.34L380.64,688.64L382.06,688.74L383.48,688.64L384.87,688.34L386.19,687.85L387.41,687.19L388.50,686.36L389.43,685.38L390.18,684.30L390.72,683.12L391.06,681.87L391.17,680.60M402.60,666.04L405.36,664.66L409.50,660.52L409.50,689.50M439.40,660.52L425.60,679.84L446.30,679.84M439.40,660.52L439.40,689.50M451.20,660.52L458.10,689.50L465.00,660.52L471.90,689.50L478.80,660.52M13.95,203.20L42.30,203.20M13.95,203.20L13.95,185.65M27.45,203.20L27.45,192.40M13.95,164.00L13.95,177.50L26.10,178.85L24.75,177.50L23.40,173.45L23.40,169.40L24.75,165.35L27.45,162.65L31.50,161.30L34.20,161.30L38.25,162.65L40.95,165.35L42.30,169.40L42.30,173.45L40.95,177.50L39.60,178.85L36.90,180.20M13.95,136.90L13.95,150.40L26.10,151.75L24.75,150.40L23.40,146.35L23.40,142.30L24.75,138.25L27.45,135.55L31.50,134.20L34.20,134.20L38.25,135.55L40.95,138.25L42.30,142.30L42.30,146.35L40.95,150.40L39.60,151.75L36.90,153.10M13.95,109.80L13.95,123.30L26.10,124.65L24.75,123.30L23.40,119.25L23.40,115.20L24.75,111.15L27.45,108.45L31.50,107.10L34.20,107.10L38.25,108.45L40.95,111.15L42.30,115.20L42.30,119.25L40.95,123.30L39.60,124.65L36.90,126.00M13.95,100.60L42.30,93.85L13.95,87.10L42.30,80.35L13.95,73.60" fill="none" stroke="#0000ff" stroke-width="1.1" stroke-linejoin="round" stroke-linecap="square"/>
<path d="M368.50,76.51L368.50,88.50M368.50,76.51L376.17,76.51M368.50,82.22L373.22,82.22M368.50,88.50L376.17,88.50M378.50,76.51L378.50,88.50M378.50,76.51L385.92,88.50M385.92,76.51L385.92,88.50M391.56,76.51L391.56,88.50M387.50,76.51L395.62,76.51M398.50,76.51L398.50,88.50M398.50,76.51L403.90,76.51L405.70,77.08L406.30,77.65L406.90,78.79L406.90,79.94L406.30,81.08L405.70,81.65L403.90,82.22L398.50,82.22M402.70,82.22L406.90,88.50M410.50,76.51L410.50,88.50M414.50,76.51L414.50,88.50M414.50,76.51L422.30,76.51M414.50,82.22L419.30,82.22M414.50,88.50L422.30,88.50M431.98,78.22L430.84,77.08L429.13,76.51L426.85,76.51L425.14,77.08L424.00,78.22L424.00,79.36L424.57,80.51L425.14,81.08L426.28,81.65L429.70,82.79L430.84,83.36L431.41,83.93L431.98,85.07L431.98,86.79L430.84,87.93L429.13,88.50L426.85,88.50L425.14,87.93L424.00,86.79M529.50,76.51L536.10,76.51L532.50,81.08L534.30,81.08L535.50,81.65L536.10,82.22L536.70,83.93L536.70,85.07L536.10,86.79L534.90,87.93L533.10,88.50L531.30,88.50L529.50,87.93L528.90,87.36L528.30,86.22M546.50,76.51L540.50,76.51L539.90,81.65L540.50,81.08L542.30,80.51L544.10,80.51L545.90,81.08L547.10,82.22L547.70,83.93L547.70,85.07L547.10,86.79L545.90,87.93L544.10,88.50L542.30,88.50L540.50,87.93L539.90,87.36L539.30,86.22M556.30,76.51L550.30,84.50L559.30,84.50M556.30,76.51L556.30,88.50M550.90,79.36L550.90,78.79L551.50,77.65L552.10,77.08L553.30,76.51L555.70,76.51L556.90,77.08L557.50,77.65L558.10,78.79L558.10,79.94L557.50,81.08L556.30,82.79L550.30,88.50L558.70,88.50M568.26,78.85L568.22,78.51L568.10,78.18L567.90,77.87L567.63,77.57L567.29,77.32L566.90,77.09L566.46,76.92L565.98,76.79L565.48,76.71L564.96,76.68L564.44,76.71L563.94,76.79L563.46,76.92L563.02,77.09L562.63,77.32L562.29,77.57L562.02,77.87L561.82,78.18L561.70,78.51L561.66,78.85L561.70,79.19L561.82,79.52L562.02,79.84L562.29,80.13L562.63,80.38L563.02,80.61L563.46,80.78L563.94,80.91L564.44,80.99L564.96,81.02L565.48,80.99L565.98,80.91L566.46,80.78L566.90,80.61L567.29,80.38L567.63,80.13L567.90,79.84L568.10,79.52L568.22,79.19L568.26,78.85M569.16,84.82L569.11,84.29L568.97,83.78L568.73,83.29L568.40,82.84L568.00,82.43L567.53,82.09L567.00,81.82L566.42,81.61L565.82,81.49L565.20,81.45L564.58,81.49L563.98,81.61L563.40,81.82L562.87,82.09L562.40,82.43L562.00,82.84L561.67,83.29L561.43,83.78L561.29,84.29L561.24,84.82L561.29,85.34L561.43,85.86L561.67,86.35L562.00,86.80L562.40,87.20L562.87,87.54L563.40,87.82L563.98,88.02L564.58,88.14L565.20,88.19L565.82,88.14L566.42,88.02L567.00,87.82L567.53,87.54L568.00,87.20L568.40,86.80L568.73,86.35L568.97,85.86L569.11,85.34L569.16,84.82M561.60,79.36L561.60,78.79L562.20,77.65L562.80,77.08L564.00,76.51L566.40,76.51L567.60,77.08L568.20,77.65L568.80,78.79L568.80,79.94L568.20,81.08L567.00,82.79L561.00,88.50L569.40,88.50" fill="none" stroke="#0000ff" stroke-width="1" stroke-linejoin="round"/>
<path d="M112.5,82.5L114.7,92.5L117.2,82.5L119.8,92.5L122.2,82.5M126.5,82.5V93M126.5,82.5H132.5M126.5,87.5H131.5M135.30,84.88L135.30,84.41L135.90,83.46L136.50,82.98L137.70,82.50L140.10,82.50L141.30,82.98L141.90,83.46L142.50,84.41L142.50,85.36L141.90,86.31L140.70,87.74L134.70,92.50L143.10,92.50" fill="none" stroke="#0000ff" stroke-width="1" stroke-linejoin="round"/>
<path d="M236,98h2v2h-2zM249,145h2v1h-2zM251,151h2v1h-2zM233,167h2v2h-2zM257,173h2v1h-2zM279,170h2v2h-2zM256,181h2v1h-2zM289,183h2v1h-2zM289,190h2v2h-2zM256,208h2v1h-2zM261,208h2v2h-2zM264,214h2v2h-2zM267,219h2v1h-2zM241,218h2v2h-2zM351,179h2v2h-2zM359,182h2v1h-2zM347,191h2v1h-2zM347,206h2v1h-2zM354,205h2v2h-2zM392,221h2v2h-2zM376,96h2v1h-2zM365,109h2v1h-2zM350,120h2v1h-2zM351,123h2v1h-2zM367,120h2v1h-2zM347,129h2v2h-2zM353,130h2v1h-2zM358,135h2v2h-2zM341,136h2v1h-2zM354,137h2v1h-2zM334,141h2v2h-2zM342,142h2v2h-2zM345,143h2v1h-2zM352,141h2v1h-2zM361,145h2v2h-2zM363,145h2v2h-2zM344,147h2v1h-2zM343,152h2v1h-2zM342,155h2v1h-2zM347,155h2v2h-2zM363,154h2v1h-2zM361,157h2v2h-2zM363,159h2v1h-2zM338,160h2v2h-2zM361,162h2v2h-2zM236,231h2v2h-2zM274,225h2v2h-2zM267,227h2v2h-2zM268,229h2v2h-2zM263,229h2v1h-2zM267,231h2v1h-2zM264,234h2v1h-2zM254,236h2v1h-2zM282,235h2v2h-2zM290,224h2v2h-2zM290,235h2v2h-2zM291,238h2v1h-2zM290,242h2v2h-2zM252,241h2v2h-2zM265,242h2v2h-2zM271,244h2v2h-2zM273,244h2v2h-2zM275,245h2v2h-2zM274,247h2v1h-2zM279,244h2v1h-2zM276,253h2v2h-2zM283,253h2v2h-2zM284,255h2v1h-2zM287,251h2v1h-2zM294,251h2v2h-2zM289,256h2v2h-2zM259,258h2v1h-2zM251,262h2v2h-2zM267,260h2v2h-2zM256,266h2v2h-2zM272,263h2v1h-2zM275,265h2v2h-2zM277,263h2v1h-2zM279,267h2v1h-2zM281,267h2v1h-2zM291,262h2v2h-2zM293,261h2v2h-2zM295,261h2v2h-2zM296,269h2v2h-2zM292,270h2v1h-2zM288,272h2v2h-2zM263,272h2v2h-2zM268,274h2v2h-2zM271,271h2v1h-2zM276,274h2v1h-2zM274,278h2v2h-2zM269,279h2v2h-2zM282,279h2v1h-2zM278,283h2v1h-2zM289,282h2v2h-2zM292,281h2v1h-2zM296,278h2v1h-2zM296,282h2v2h-2zM289,285h2v1h-2zM287,289h2v1h-2zM290,289h2v1h-2zM291,292h2v1h-2zM288,295h2v1h-2zM316,230h2v2h-2zM301,234h2v1h-2zM339,230h2v2h-2zM346,229h2v2h-2zM348,231h2v2h-2zM351,229h2v2h-2zM343,240h2v2h-2zM354,241h2v1h-2zM339,248h2v1h-2zM347,252h2v1h-2zM350,254h2v2h-2zM335,254h2v2h-2zM339,256h2v2h-2zM349,260h2v2h-2zM333,262h2v2h-2zM337,263h2v1h-2zM341,266h2v2h-2zM342,268h2v2h-2zM340,272h2v2h-2zM337,276h2v2h-2zM336,279h2v1h-2zM333,280h2v2h-2zM326,283h2v1h-2zM334,290h2v2h-2zM344,294h2v1h-2zM299,254h2v2h-2zM300,259h2v1h-2zM298,262h2v2h-2zM299,267h2v2h-2zM301,270h2v2h-2zM300,273h2v2h-2zM297,278h2v1h-2zM320,267h2v2h-2zM315,274h2v1h-2zM317,275h2v2h-2zM319,274h2v2h-2zM306,277h2v1h-2zM302,280h2v2h-2zM312,280h2v2h-2zM297,282h2v2h-2zM297,287h2v2h-2zM302,287h2v2h-2zM304,289h2v1h-2zM308,287h2v2h-2zM306,290h2v2h-2zM313,288h2v2h-2zM315,286h2v2h-2zM316,288h2v2h-2zM314,289h2v2h-2zM317,291h2v1h-2zM311,294h2v1h-2zM321,294h2v1h-2zM308,296h2v1h-2zM299,295h2v1h-2zM280,303h2v2h-2zM278,319h2v2h-2zM286,302h2v2h-2zM291,301h2v2h-2zM290,304h2v2h-2zM292,303h2v2h-2zM294,304h2v2h-2zM292,306h2v2h-2zM295,298h2v2h-2zM293,309h2v2h-2zM288,313h2v2h-2zM290,314h2v2h-2zM292,313h2v2h-2zM296,314h2v2h-2zM287,318h2v1h-2zM290,319h2v2h-2zM294,317h2v2h-2zM296,318h2v2h-2zM286,321h2v2h-2zM295,322h2v2h-2zM290,325h2v2h-2zM293,326h2v2h-2zM295,328h2v2h-2zM288,331h2v1h-2zM291,331h2v2h-2zM292,333h2v1h-2zM290,335h2v1h-2zM294,335h2v2h-2zM285,339h2v2h-2zM294,342h2v2h-2zM287,349h2v2h-2zM291,352h2v1h-2zM293,353h2v2h-2zM295,352h2v1h-2zM296,356h2v1h-2zM290,359h2v2h-2zM293,359h2v1h-2zM289,363h2v2h-2zM292,366h2v2h-2zM292,369h2v2h-2zM297,298h2v2h-2zM300,298h2v2h-2zM302,299h2v2h-2zM306,297h2v2h-2zM308,297h2v2h-2zM308,301h2v2h-2zM303,300h2v2h-2zM302,303h2v2h-2zM300,304h2v2h-2zM325,301h2v2h-2zM332,302h2v2h-2zM330,303h2v2h-2zM324,305h2v2h-2zM345,300h2v1h-2zM307,306h2v2h-2zM306,308h2v2h-2zM299,309h2v2h-2zM301,309h2v2h-2zM303,309h2v2h-2zM297,310h2v2h-2zM297,312h2v1h-2zM305,311h2v2h-2zM298,314h2v2h-2zM301,313h2v2h-2zM302,315h2v2h-2zM305,314h2v2h-2zM305,316h2v2h-2zM310,314h2v2h-2zM311,316h2v2h-2zM309,317h2v2h-2zM314,315h2v2h-2zM300,316h2v2h-2zM301,318h2v2h-2zM303,318h2v2h-2zM299,320h2v2h-2zM305,319h2v2h-2zM310,320h2v2h-2zM314,320h2v2h-2zM316,321h2v2h-2zM317,322h2v2h-2zM318,319h2v2h-2zM299,322h2v2h-2zM304,322h2v2h-2zM302,324h2v2h-2zM304,325h2v2h-2zM305,325h2v2h-2zM299,327h2v2h-2zM301,327h2v2h-2zM306,326h2v2h-2zM307,328h2v2h-2zM310,327h2v2h-2zM312,327h2v2h-2zM298,329h2v2h-2zM302,330h2v2h-2zM304,330h2v2h-2zM305,331h2v2h-2zM307,329h2v2h-2zM307,331h2v2h-2zM311,329h2v2h-2zM313,329h2v2h-2zM297,331h2v2h-2zM298,333h2v2h-2zM306,333h2v2h-2zM310,332h2v2h-2zM311,334h2v2h-2zM313,333h2v2h-2zM318,332h2v2h-2zM321,331h2v2h-2zM309,335h2v2h-2zM311,336h2v2h-2zM305,336h2v2h-2zM306,337h2v2h-2zM299,337h2v2h-2zM301,338h2v2h-2zM297,339h2v2h-2zM303,339h2v2h-2zM304,340h2v2h-2zM302,341h2v2h-2zM306,339h2v2h-2zM310,341h2v2h-2zM312,341h2v2h-2zM314,340h2v2h-2zM316,340h2v2h-2zM299,341h2v2h-2zM298,343h2v2h-2zM307,342h2v2h-2zM305,343h2v2h-2zM313,342h2v2h-2zM315,343h2v2h-2zM317,343h2v2h-2zM317,342h2v1h-2zM326,342h2v1h-2zM326,345h2v2h-2zM301,344h2v2h-2zM303,345h2v2h-2zM304,343h2v2h-2zM308,344h2v2h-2zM309,345h2v2h-2zM299,345h2v2h-2zM297,345h2v2h-2zM312,345h2v2h-2zM306,345h2v2h-2zM435,434h2v2h-2zM251,422h2v1h-2zM258,433h2v1h-2zM287,349h2v2h-2zM291,352h2v1h-2zM290,359h2v2h-2zM292,365h2v2h-2zM292,369h2v2h-2zM290,373h2v2h-2zM294,380h2v1h-2zM290,383h2v2h-2zM295,382h2v2h-2zM292,392h2v2h-2zM295,389h2v1h-2zM279,396h2v2h-2zM290,402h2v2h-2zM290,411h2v2h-2zM294,410h2v2h-2zM294,413h2v1h-2zM274,412h2v1h-2zM288,417h2v2h-2zM293,420h2v1h-2zM280,423h2v2h-2zM291,424h2v2h-2zM287,428h2v1h-2zM291,432h2v2h-2zM295,428h2v2h-2zM275,438h2v1h-2zM292,437h2v1h-2zM478,448h2v2h-2zM446,485h2v2h-2zM445,530h2v2h-2zM438,516h2v2h-2zM438,518h2v1h-2zM435,537h2v2h-2zM381,461h2v2h-2zM381,463h2v1h-2zM421,525h2v1h-2zM425,524h2v1h-2zM429,523h2v1h-2zM433,523h2v1h-2zM436,524h2v1h-2zM321,530h2v2h-2zM323,535h2v1h-2zM326,533h2v2h-2zM337,538h2v2h-2zM340,541h2v2h-2zM348,539h2v2h-2zM350,535h2v2h-2zM347,534h2v2h-2zM352,532h2v2h-2zM357,532h2v2h-2zM359,535h2v2h-2zM361,536h2v2h-2zM358,537h2v1h-2zM364,531h2v2h-2zM369,534h2v2h-2zM370,538h2v2h-2zM376,534h2v2h-2zM378,532h2v2h-2zM380,539h2v2h-2zM384,540h2v2h-2zM386,539h2v2h-2zM389,534h2v2h-2zM394,533h2v2h-2zM397,537h2v2h-2zM395,540h2v2h-2zM415,522h2v2h-2zM416,526h2v2h-2zM414,529h2v2h-2zM420,525h2v2h-2zM424,526h2v1h-2zM434,522h2v2h-2zM437,525h2v2h-2zM432,537h2v1h-2zM433,543h2v2h-2zM425,542h2v2h-2zM421,538h2v2h-2zM422,540h2v2h-2zM420,542h2v2h-2zM416,541h2v2h-2zM409,538h2v2h-2zM406,541h2v1h-2zM407,543h2v1h-2zM412,533h2v2h-2zM408,533h2v2h-2zM551,494h2v2h-2zM288,441h2v2h-2zM288,465h2v1h-2zM279,486h2v1h-2zM282,501h2v2h-2zM285,512h2v2h-2zM357,368h2v2h-2zM356,417h2v2h-2zM353,423h2v2h-2zM361,428h2v2h-2zM362,432h2v2h-2zM370,438h2v2h-2zM352,435h2v2h-2zM354,437h2v2h-2zM342,382h2v2h-2zM343,385h2v2h-2zM316,341h2v2h-2zM317,342h2v2h-2zM322,351h2v2h-2zM327,352h2v2h-2zM316,353h2v2h-2zM319,355h2v2h-2zM322,357h2v2h-2zM327,361h2v2h-2zM319,362h2v2h-2zM319,364h2v2h-2zM317,365h2v1h-2zM326,364h2v2h-2zM330,366h2v2h-2zM325,370h2v2h-2zM335,370h2v2h-2zM324,377h2v2h-2zM325,378h2v2h-2zM328,376h2v1h-2zM330,377h2v1h-2zM331,379h2v2h-2zM325,383h2v2h-2zM322,385h2v2h-2zM323,387h2v2h-2zM325,387h2v2h-2zM329,383h2v2h-2zM328,385h2v2h-2zM329,387h2v2h-2zM330,389h2v1h-2zM333,389h2v2h-2zM332,392h2v2h-2zM332,394h2v2h-2zM330,391h2v1h-2zM329,396h2v1h-2zM335,397h2v2h-2zM334,398h2v1h-2zM347,400h2v1h-2zM335,405h2v2h-2zM332,405h2v2h-2zM332,407h2v2h-2zM345,408h2v2h-2zM320,381h2v2h-2zM321,383h2v2h-2zM320,388h2v2h-2zM290,374h2v2h-2zM293,374h2v1h-2zM292,375h2v2h-2zM296,374h2v2h-2zM302,408h2v2h-2zM301,408h2v2h-2zM306,409h2v1h-2zM302,403h2v2h-2zM303,405h2v2h-2zM337,405h2v2h-2zM308,416h2v2h-2zM302,412h2v2h-2zM306,411h2v2h-2zM302,416h2v1h-2zM308,415h2v2h-2zM343,411h2v1h-2zM343,418h2v1h-2zM344,416h2v2h-2zM302,420h2v2h-2zM304,420h2v1h-2zM303,425h2v2h-2zM302,426h2v2h-2zM300,420h2v2h-2zM301,436h2v2h-2zM302,430h2v1h-2zM305,433h2v1h-2zM301,437h2v2h-2zM300,437h2v2h-2zM306,438h2v2h-2zM291,448h2v2h-2zM297,442h2v2h-2zM305,443h2v1h-2zM302,444h2v2h-2zM301,448h2v2h-2zM302,440h2v2h-2zM302,441h2v2h-2zM366,441h2v2h-2zM367,446h2v1h-2zM362,440h2v2h-2zM292,456h2v2h-2zM308,453h2v2h-2zM308,456h2v1h-2zM301,457h2v2h-2zM303,452h2v2h-2zM303,455h2v2h-2zM362,458h2v2h-2zM360,454h2v2h-2zM370,455h2v1h-2zM378,459h2v1h-2zM371,452h2v2h-2zM290,464h2v2h-2zM305,476h2v2h-2zM304,474h2v2h-2zM377,470h2v2h-2zM370,473h2v2h-2zM370,471h2v2h-2zM373,476h2v2h-2zM384,475h2v2h-2zM384,475h2v2h-2zM381,479h2v1h-2zM380,476h2v2h-2zM291,482h2v2h-2zM303,485h2v1h-2zM300,482h2v2h-2zM318,480h2v2h-2zM315,486h2v1h-2zM310,483h2v2h-2zM312,483h2v2h-2zM318,485h2v2h-2zM324,480h2v2h-2zM321,481h2v1h-2zM328,488h2v2h-2zM326,488h2v2h-2zM328,482h2v2h-2zM385,482h2v2h-2zM387,480h2v2h-2zM380,486h2v2h-2zM388,480h2v2h-2zM387,480h2v2h-2zM386,484h2v2h-2zM390,481h2v2h-2zM401,481h2v2h-2zM290,490h2v2h-2zM303,498h2v2h-2zM317,497h2v2h-2zM313,493h2v2h-2zM312,496h2v2h-2zM313,497h2v2h-2zM313,498h2v1h-2zM318,493h2v2h-2zM327,490h2v2h-2zM321,491h2v2h-2zM321,491h2v2h-2zM323,493h2v2h-2zM323,497h2v1h-2zM327,496h2v2h-2zM397,498h2v2h-2zM390,498h2v2h-2zM405,493h2v1h-2zM401,496h2v2h-2zM295,503h2v2h-2zM306,501h2v2h-2zM316,504h2v2h-2zM312,500h2v2h-2zM324,500h2v2h-2zM327,505h2v1h-2zM323,504h2v2h-2zM406,505h2v2h-2zM408,504h2v2h-2zM403,504h2v2h-2zM400,500h2v1h-2zM402,505h2v2h-2zM414,508h2v2h-2zM413,506h2v2h-2zM296,517h2v2h-2zM304,518h2v2h-2zM311,517h2v2h-2zM327,512h2v1h-2zM320,511h2v1h-2zM321,514h2v2h-2zM326,516h2v2h-2zM326,511h2v2h-2zM323,510h2v2h-2zM332,510h2v1h-2zM334,512h2v2h-2zM334,515h2v2h-2zM335,516h2v2h-2zM333,517h2v2h-2zM406,517h2v2h-2zM405,514h2v2h-2zM402,517h2v1h-2zM400,517h2v2h-2zM403,516h2v1h-2zM413,519h2v1h-2zM417,514h2v2h-2zM413,516h2v1h-2zM411,512h2v2h-2zM410,511h2v2h-2zM412,515h2v1h-2zM303,520h2v2h-2zM314,523h2v2h-2zM324,524h2v2h-2zM326,520h2v2h-2zM337,527h2v2h-2zM333,524h2v2h-2zM344,520h2v2h-2zM342,528h2v2h-2zM344,523h2v2h-2zM345,520h2v1h-2zM342,523h2v2h-2zM400,522h2v2h-2zM402,526h2v2h-2zM406,520h2v2h-2zM402,528h2v2h-2zM417,521h2v2h-2zM411,522h2v2h-2zM315,532h2v2h-2zM335,533h2v1h-2zM338,535h2v2h-2zM345,532h2v2h-2zM368,532h2v2h-2zM372,536h2v2h-2zM402,534h2v2h-2zM412,538h2v2h-2zM414,534h2v2h-2zM289,343h2v2h-2zM294,347h2v2h-2zM292,344h2v2h-2zM289,349h2v1h-2zM302,348h2v2h-2zM309,348h2v2h-2zM304,347h2v2h-2zM319,344h2v2h-2zM314,347h2v2h-2zM315,348h2v2h-2zM299,350h2v2h-2zM297,350h2v2h-2zM294,354h2v2h-2zM302,353h2v2h-2zM304,353h2v1h-2zM300,351h2v1h-2zM299,351h2v2h-2zM304,354h2v1h-2zM302,352h2v2h-2zM304,352h2v2h-2zM308,349h2v2h-2zM308,350h2v2h-2zM304,353h2v1h-2zM308,350h2v1h-2zM305,354h2v2h-2zM304,350h2v2h-2zM304,351h2v2h-2zM308,351h2v2h-2zM309,352h2v1h-2zM310,351h2v2h-2zM309,349h2v2h-2zM309,351h2v2h-2zM309,349h2v2h-2zM310,352h2v2h-2zM312,354h2v2h-2zM294,358h2v2h-2zM295,357h2v2h-2zM297,359h2v1h-2zM304,355h2v1h-2zM299,357h2v2h-2zM304,357h2v2h-2zM301,354h2v1h-2zM299,358h2v2h-2zM299,357h2v2h-2zM303,357h2v2h-2zM300,359h2v2h-2zM299,355h2v2h-2zM302,355h2v2h-2zM305,359h2v1h-2zM304,355h2v2h-2zM307,358h2v2h-2zM312,357h2v2h-2zM312,354h2v2h-2zM314,359h2v2h-2zM309,356h2v1h-2zM316,354h2v2h-2zM293,364h2v2h-2zM298,362h2v2h-2zM295,359h2v2h-2zM295,362h2v2h-2zM303,362h2v1h-2zM301,362h2v2h-2zM301,362h2v2h-2zM302,361h2v2h-2zM307,359h2v2h-2zM305,362h2v2h-2zM308,363h2v2h-2zM306,363h2v2h-2zM312,361h2v2h-2zM313,361h2v1h-2zM313,361h2v2h-2zM311,359h2v2h-2zM317,362h2v2h-2zM297,369h2v1h-2zM295,367h2v2h-2zM295,366h2v2h-2zM302,367h2v2h-2zM299,364h2v1h-2zM304,369h2v2h-2zM299,369h2v1h-2zM299,365h2v2h-2zM304,364h2v2h-2zM299,366h2v2h-2zM308,369h2v2h-2zM309,366h2v2h-2zM306,367h2v2h-2zM305,367h2v1h-2zM309,365h2v1h-2zM313,365h2v2h-2zM312,369h2v1h-2zM309,369h2v2h-2zM317,365h2v1h-2zM318,369h2v2h-2zM318,365h2v1h-2zM314,365h2v2h-2zM294,374h2v2h-2zM298,372h2v2h-2zM301,374h2v2h-2zM300,372h2v2h-2zM300,372h2v2h-2zM300,374h2v2h-2zM301,369h2v2h-2zM304,374h2v1h-2zM306,370h2v2h-2zM308,372h2v2h-2zM311,371h2v1h-2zM309,371h2v2h-2zM313,374h2v1h-2zM314,371h2v2h-2zM310,369h2v2h-2zM313,370h2v2h-2zM316,374h2v1h-2zM317,369h2v2h-2zM318,369h2v2h-2zM314,371h2v2h-2zM317,371h2v2h-2zM294,378h2v2h-2zM300,378h2v2h-2zM300,375h2v2h-2zM309,375h2v2h-2zM307,376h2v1h-2zM306,375h2v2h-2zM305,377h2v2h-2zM314,377h2v1h-2zM312,379h2v2h-2zM311,375h2v2h-2zM310,377h2v2h-2zM315,378h2v1h-2zM318,374h2v2h-2zM319,376h2v2h-2zM319,376h2v2h-2zM317,374h2v2h-2zM316,375h2v1h-2zM314,374h2v2h-2zM301,380h2v2h-2zM304,381h2v2h-2zM308,384h2v2h-2zM308,379h2v2h-2zM307,384h2v1h-2zM308,382h2v2h-2zM309,384h2v2h-2zM309,384h2v2h-2zM309,380h2v2h-2zM314,384h2v2h-2zM314,380h2v1h-2zM313,379h2v2h-2zM312,380h2v2h-2zM314,382h2v2h-2zM314,379h2v2h-2zM311,382h2v2h-2zM314,380h2v2h-2zM319,379h2v2h-2zM319,379h2v2h-2zM319,383h2v2h-2zM314,383h2v1h-2zM314,383h2v2h-2zM314,382h2v2h-2zM314,384h2v1h-2zM317,379h2v2h-2zM301,387h2v2h-2zM306,388h2v2h-2zM304,388h2v2h-2zM309,385h2v2h-2zM314,384h2v2h-2zM311,386h2v2h-2zM311,384h2v1h-2zM310,384h2v2h-2zM311,389h2v2h-2zM314,389h2v2h-2zM314,389h2v2h-2zM316,389h2v2h-2zM314,387h2v1h-2zM317,386h2v1h-2zM314,384h2v2h-2zM314,385h2v2h-2zM314,389h2v1h-2zM315,389h2v1h-2zM316,389h2v2h-2zM315,384h2v2h-2zM316,384h2v1h-2zM316,388h2v2h-2zM300,392h2v2h-2zM307,392h2v2h-2zM307,390h2v2h-2zM311,393h2v2h-2zM314,393h2v2h-2zM312,393h2v1h-2zM314,389h2v1h-2zM314,391h2v1h-2zM318,391h2v1h-2zM318,394h2v2h-2zM322,394h2v2h-2zM319,392h2v1h-2zM322,389h2v2h-2zM323,391h2v2h-2zM325,391h2v2h-2zM300,395h2v1h-2zM301,394h2v2h-2zM300,397h2v2h-2zM306,394h2v2h-2zM309,398h2v2h-2zM309,394h2v2h-2zM304,397h2v2h-2zM312,394h2v2h-2zM311,398h2v2h-2zM314,399h2v2h-2zM315,396h2v2h-2zM318,397h2v1h-2zM315,394h2v1h-2zM314,394h2v1h-2zM318,395h2v1h-2zM314,394h2v1h-2zM318,395h2v2h-2zM324,398h2v2h-2zM319,394h2v1h-2zM321,397h2v2h-2zM326,397h2v2h-2zM306,402h2v2h-2zM304,404h2v2h-2zM307,401h2v2h-2zM312,399h2v2h-2zM311,403h2v2h-2zM311,399h2v2h-2zM312,402h2v2h-2zM314,404h2v2h-2zM318,402h2v1h-2zM317,400h2v2h-2zM316,403h2v2h-2zM324,404h2v2h-2zM324,402h2v2h-2zM319,401h2v2h-2zM323,399h2v1h-2zM320,404h2v2h-2zM324,399h2v2h-2zM320,401h2v2h-2zM328,399h2v2h-2zM326,400h2v1h-2zM309,408h2v2h-2zM309,406h2v2h-2zM310,409h2v2h-2zM311,408h2v2h-2zM316,408h2v2h-2zM319,406h2v1h-2zM318,408h2v2h-2zM314,404h2v2h-2zM314,405h2v1h-2zM317,409h2v2h-2zM316,406h2v2h-2zM322,405h2v2h-2zM321,404h2v2h-2zM324,409h2v2h-2zM322,409h2v2h-2zM323,404h2v2h-2zM320,404h2v2h-2zM323,408h2v1h-2zM326,407h2v2h-2zM329,405h2v2h-2zM324,404h2v1h-2zM324,405h2v2h-2zM324,407h2v1h-2zM309,411h2v2h-2zM311,414h2v2h-2zM310,409h2v2h-2zM313,412h2v2h-2zM317,414h2v1h-2zM314,413h2v1h-2zM318,413h2v1h-2zM314,412h2v2h-2zM318,411h2v2h-2zM323,410h2v1h-2zM324,409h2v1h-2zM324,411h2v2h-2zM319,412h2v2h-2zM319,413h2v2h-2zM323,413h2v1h-2zM320,414h2v2h-2zM320,414h2v2h-2zM320,409h2v2h-2zM322,411h2v2h-2zM327,413h2v1h-2zM326,411h2v1h-2zM325,410h2v2h-2zM326,411h2v2h-2zM329,410h2v2h-2zM334,412h2v2h-2zM332,411h2v2h-2zM338,413h2v2h-2zM314,414h2v2h-2zM314,417h2v2h-2zM309,417h2v2h-2zM309,418h2v2h-2zM314,415h2v1h-2zM313,418h2v1h-2zM314,419h2v1h-2zM319,417h2v2h-2zM316,414h2v2h-2zM316,414h2v1h-2zM315,419h2v2h-2zM319,415h2v2h-2zM314,418h2v2h-2zM315,418h2v1h-2zM324,418h2v2h-2zM319,415h2v1h-2zM322,419h2v1h-2zM320,419h2v2h-2zM320,418h2v2h-2zM319,417h2v2h-2zM322,415h2v2h-2zM324,414h2v1h-2zM328,416h2v1h-2zM325,415h2v1h-2zM329,417h2v2h-2zM327,416h2v2h-2zM324,419h2v2h-2zM326,415h2v2h-2zM331,417h2v2h-2zM329,415h2v2h-2zM330,419h2v2h-2zM337,414h2v1h-2zM335,416h2v2h-2zM337,416h2v1h-2zM306,424h2v2h-2zM308,422h2v2h-2zM313,421h2v2h-2zM314,424h2v2h-2zM309,424h2v2h-2zM311,420h2v2h-2zM316,419h2v1h-2zM315,419h2v2h-2zM314,420h2v2h-2zM315,422h2v1h-2zM319,420h2v1h-2zM316,420h2v2h-2zM319,421h2v1h-2zM320,424h2v2h-2zM322,420h2v2h-2zM320,423h2v2h-2zM321,423h2v2h-2zM328,420h2v1h-2zM326,424h2v2h-2zM327,423h2v2h-2zM326,419h2v2h-2zM325,421h2v2h-2zM329,422h2v2h-2zM329,419h2v2h-2zM332,423h2v2h-2zM334,422h2v2h-2zM331,423h2v1h-2zM330,421h2v2h-2zM337,420h2v2h-2zM338,423h2v2h-2zM342,419h2v1h-2zM339,424h2v2h-2zM339,422h2v1h-2zM343,423h2v2h-2zM344,421h2v2h-2zM346,420h2v1h-2zM306,428h2v2h-2zM311,426h2v1h-2zM314,427h2v1h-2zM314,427h2v2h-2zM309,426h2v2h-2zM314,428h2v2h-2zM314,427h2v2h-2zM319,425h2v2h-2zM317,426h2v2h-2zM324,427h2v2h-2zM323,426h2v1h-2zM324,427h2v2h-2zM321,427h2v2h-2zM324,429h2v2h-2zM324,426h2v2h-2zM329,428h2v2h-2zM329,424h2v1h-2zM327,424h2v2h-2zM327,429h2v2h-2zM327,428h2v2h-2zM324,427h2v2h-2zM328,426h2v2h-2zM329,425h2v2h-2zM332,427h2v2h-2zM329,427h2v2h-2zM333,427h2v2h-2zM334,429h2v2h-2zM334,427h2v1h-2zM332,425h2v2h-2zM338,428h2v2h-2zM337,424h2v1h-2zM337,424h2v2h-2zM339,424h2v2h-2zM338,426h2v2h-2zM343,424h2v2h-2zM340,426h2v2h-2zM341,425h2v2h-2zM348,429h2v2h-2zM347,429h2v1h-2zM346,425h2v2h-2zM313,432h2v1h-2zM310,429h2v2h-2zM309,434h2v2h-2zM309,433h2v2h-2zM315,429h2v1h-2zM319,433h2v2h-2zM318,430h2v2h-2zM318,429h2v2h-2zM314,429h2v1h-2zM317,434h2v2h-2zM321,429h2v1h-2zM319,433h2v1h-2zM319,429h2v2h-2zM322,434h2v2h-2zM320,432h2v2h-2zM323,433h2v2h-2zM328,434h2v1h-2zM325,431h2v1h-2zM326,433h2v2h-2zM326,429h2v2h-2zM326,433h2v1h-2zM326,431h2v1h-2zM326,433h2v2h-2zM326,434h2v1h-2zM327,434h2v1h-2zM328,429h2v2h-2zM333,433h2v1h-2zM331,432h2v2h-2zM331,434h2v1h-2zM330,434h2v1h-2zM332,429h2v2h-2zM332,432h2v1h-2zM330,430h2v2h-2zM337,430h2v2h-2zM337,431h2v1h-2zM339,430h2v2h-2zM334,432h2v1h-2zM339,434h2v1h-2zM339,432h2v1h-2zM339,434h2v2h-2zM337,434h2v2h-2zM334,430h2v2h-2zM337,434h2v2h-2zM335,430h2v1h-2zM340,432h2v1h-2zM343,429h2v2h-2zM342,429h2v2h-2zM342,429h2v2h-2zM339,429h2v1h-2zM339,432h2v1h-2zM339,433h2v2h-2zM341,433h2v2h-2zM349,432h2v2h-2zM345,434h2v2h-2zM349,430h2v2h-2zM312,439h2v2h-2zM310,438h2v2h-2zM319,435h2v2h-2zM314,435h2v2h-2zM318,436h2v1h-2zM318,434h2v2h-2zM315,435h2v1h-2zM319,436h2v2h-2zM324,436h2v2h-2zM324,439h2v2h-2zM324,434h2v2h-2zM319,436h2v1h-2zM322,434h2v2h-2zM319,439h2v1h-2zM322,439h2v2h-2zM326,436h2v1h-2zM329,435h2v2h-2zM326,438h2v2h-2zM326,435h2v2h-2zM331,436h2v1h-2zM329,438h2v2h-2zM329,438h2v1h-2zM332,434h2v2h-2zM332,436h2v2h-2zM333,436h2v2h-2zM331,439h2v2h-2zM334,435h2v1h-2zM338,438h2v2h-2zM339,437h2v1h-2zM335,439h2v2h-2zM337,438h2v2h-2zM339,434h2v1h-2zM338,435h2v1h-2zM336,436h2v2h-2zM339,436h2v1h-2zM340,434h2v2h-2zM342,434h2v2h-2zM339,438h2v1h-2zM341,437h2v2h-2zM341,439h2v2h-2zM348,438h2v2h-2zM347,434h2v2h-2zM345,434h2v2h-2zM344,435h2v2h-2zM311,440h2v1h-2zM309,440h2v2h-2zM315,443h2v2h-2zM318,439h2v2h-2zM319,439h2v2h-2zM318,444h2v1h-2zM322,442h2v1h-2zM321,442h2v2h-2zM323,440h2v2h-2zM328,444h2v1h-2zM327,440h2v2h-2zM327,440h2v2h-2zM325,441h2v2h-2zM326,439h2v2h-2zM329,441h2v2h-2zM334,444h2v1h-2zM329,441h2v1h-2zM334,439h2v2h-2zM334,444h2v1h-2zM334,443h2v2h-2zM331,440h2v1h-2zM331,443h2v2h-2zM332,443h2v2h-2zM332,442h2v1h-2zM333,441h2v2h-2zM335,439h2v2h-2zM338,444h2v2h-2zM338,439h2v2h-2zM337,443h2v2h-2zM337,439h2v1h-2zM335,441h2v1h-2zM339,440h2v1h-2zM339,443h2v1h-2zM335,440h2v2h-2zM334,442h2v2h-2zM336,444h2v2h-2zM334,442h2v2h-2zM334,440h2v2h-2zM335,444h2v2h-2zM339,444h2v2h-2zM337,442h2v2h-2zM341,444h2v2h-2zM341,440h2v2h-2zM340,439h2v2h-2zM343,444h2v2h-2zM342,442h2v2h-2zM345,442h2v1h-2zM347,441h2v2h-2zM348,442h2v2h-2zM344,439h2v2h-2zM347,443h2v2h-2zM350,441h2v2h-2zM354,444h2v2h-2zM354,442h2v2h-2zM310,445h2v2h-2zM314,445h2v2h-2zM315,447h2v2h-2zM314,447h2v2h-2zM318,447h2v2h-2zM324,447h2v2h-2zM320,448h2v1h-2zM320,448h2v2h-2zM322,449h2v2h-2zM320,449h2v2h-2zM324,444h2v2h-2zM319,444h2v2h-2zM326,449h2v1h-2zM327,448h2v2h-2zM325,445h2v2h-2zM325,449h2v1h-2zM327,445h2v1h-2zM333,449h2v1h-2zM330,446h2v1h-2zM333,447h2v2h-2zM333,445h2v2h-2zM329,448h2v2h-2zM329,445h2v2h-2zM334,447h2v2h-2zM329,448h2v2h-2zM333,447h2v1h-2zM333,447h2v2h-2zM329,447h2v1h-2zM339,445h2v1h-2zM338,446h2v2h-2zM339,444h2v2h-2zM334,444h2v1h-2zM339,447h2v1h-2zM339,445h2v2h-2zM337,446h2v2h-2zM338,448h2v2h-2zM340,448h2v1h-2zM340,444h2v1h-2zM340,444h2v2h-2zM341,444h2v2h-2zM342,448h2v2h-2zM343,446h2v2h-2zM348,447h2v2h-2zM347,446h2v2h-2zM348,448h2v1h-2zM344,447h2v2h-2zM346,445h2v2h-2zM352,448h2v2h-2zM351,446h2v1h-2zM351,449h2v1h-2zM354,449h2v2h-2zM356,445h2v2h-2zM311,453h2v2h-2zM309,454h2v2h-2zM316,449h2v2h-2zM316,450h2v2h-2zM317,449h2v2h-2zM316,453h2v1h-2zM323,449h2v1h-2zM323,454h2v2h-2zM323,451h2v2h-2zM327,452h2v2h-2zM325,454h2v2h-2zM326,451h2v2h-2zM324,451h2v2h-2zM325,452h2v2h-2zM331,454h2v2h-2zM329,449h2v1h-2zM331,453h2v1h-2zM330,451h2v2h-2zM331,452h2v1h-2zM334,452h2v2h-2zM330,449h2v2h-2zM331,454h2v1h-2zM329,452h2v2h-2zM331,454h2v2h-2zM334,451h2v2h-2zM335,452h2v2h-2zM339,450h2v2h-2zM336,452h2v2h-2zM334,449h2v2h-2zM339,449h2v1h-2zM338,454h2v2h-2zM337,454h2v2h-2zM334,454h2v1h-2zM334,454h2v2h-2zM334,451h2v2h-2zM338,449h2v2h-2zM335,449h2v1h-2zM335,449h2v1h-2zM335,452h2v2h-2zM335,451h2v2h-2zM342,449h2v2h-2zM340,449h2v2h-2zM344,450h2v2h-2zM339,451h2v2h-2zM341,449h2v2h-2zM342,449h2v2h-2zM344,453h2v1h-2zM342,452h2v2h-2zM344,449h2v2h-2zM342,452h2v2h-2zM340,449h2v2h-2zM344,449h2v1h-2zM342,453h2v2h-2zM345,449h2v1h-2zM345,452h2v2h-2zM345,451h2v2h-2zM346,449h2v2h-2zM349,449h2v2h-2zM348,449h2v2h-2zM349,450h2v2h-2zM352,450h2v2h-2zM353,454h2v2h-2zM359,453h2v2h-2zM358,449h2v1h-2zM358,453h2v2h-2zM306,457h2v2h-2zM314,458h2v2h-2zM311,459h2v2h-2zM316,459h2v2h-2zM315,457h2v2h-2zM323,454h2v2h-2zM320,454h2v2h-2zM321,459h2v2h-2zM323,454h2v2h-2zM324,457h2v2h-2zM319,455h2v1h-2zM324,454h2v2h-2zM322,455h2v2h-2zM326,457h2v1h-2zM324,459h2v2h-2zM325,459h2v2h-2zM327,454h2v2h-2zM329,456h2v2h-2zM331,458h2v2h-2zM329,456h2v1h-2zM330,456h2v2h-2zM334,456h2v2h-2zM333,459h2v2h-2zM338,455h2v2h-2zM335,459h2v2h-2zM338,459h2v1h-2zM338,455h2v2h-2zM337,455h2v1h-2zM339,455h2v2h-2zM335,456h2v1h-2zM335,454h2v2h-2zM338,454h2v2h-2zM338,457h2v2h-2zM343,457h2v1h-2zM344,457h2v2h-2zM340,454h2v2h-2zM339,458h2v1h-2zM339,455h2v2h-2zM340,457h2v2h-2zM341,457h2v2h-2zM344,456h2v2h-2zM344,457h2v2h-2zM341,459h2v2h-2zM349,458h2v2h-2zM344,456h2v2h-2zM345,457h2v2h-2zM347,457h2v1h-2zM349,455h2v1h-2zM346,456h2v2h-2zM354,459h2v1h-2zM353,456h2v2h-2zM359,456h2v2h-2zM356,459h2v2h-2zM355,455h2v2h-2zM300,460h2v1h-2zM299,461h2v2h-2zM308,464h2v1h-2zM304,464h2v2h-2zM309,460h2v1h-2zM306,464h2v1h-2zM311,461h2v2h-2zM318,463h2v2h-2zM324,459h2v2h-2zM322,463h2v1h-2zM321,459h2v1h-2zM321,460h2v2h-2zM328,459h2v2h-2zM329,464h2v2h-2zM327,464h2v2h-2zM329,459h2v2h-2zM325,461h2v2h-2zM331,461h2v1h-2zM329,463h2v1h-2zM330,464h2v2h-2zM330,460h2v2h-2zM331,462h2v2h-2zM337,459h2v2h-2zM336,464h2v2h-2zM337,463h2v2h-2zM337,459h2v2h-2zM334,460h2v2h-2zM336,459h2v2h-2zM334,459h2v1h-2zM338,459h2v2h-2zM338,459h2v2h-2zM335,463h2v2h-2zM338,463h2v2h-2zM342,459h2v2h-2zM342,461h2v2h-2zM341,460h2v1h-2zM341,462h2v2h-2zM343,464h2v1h-2zM339,462h2v2h-2zM339,460h2v2h-2zM347,459h2v2h-2zM345,464h2v2h-2zM345,464h2v2h-2zM345,460h2v2h-2zM344,459h2v2h-2zM349,461h2v2h-2zM347,461h2v2h-2zM353,460h2v2h-2zM349,464h2v2h-2zM352,459h2v2h-2zM351,463h2v2h-2zM354,464h2v1h-2zM359,463h2v2h-2zM355,464h2v2h-2zM355,459h2v1h-2zM355,464h2v2h-2zM354,461h2v2h-2zM359,461h2v1h-2zM360,462h2v2h-2zM362,462h2v2h-2zM367,461h2v2h-2zM364,460h2v2h-2zM370,461h2v1h-2zM374,459h2v2h-2zM369,460h2v2h-2zM371,464h2v2h-2zM378,461h2v1h-2zM299,468h2v2h-2zM309,465h2v2h-2zM306,466h2v2h-2zM312,464h2v2h-2zM314,467h2v1h-2zM317,466h2v1h-2zM319,466h2v2h-2zM314,468h2v1h-2zM321,468h2v2h-2zM329,465h2v2h-2zM326,467h2v2h-2zM330,466h2v2h-2zM330,468h2v2h-2zM331,465h2v1h-2zM329,465h2v2h-2zM332,469h2v2h-2zM337,467h2v2h-2zM335,466h2v1h-2zM337,468h2v2h-2zM335,466h2v2h-2zM334,469h2v2h-2zM339,469h2v2h-2zM339,468h2v1h-2zM340,467h2v1h-2zM340,466h2v1h-2zM341,464h2v1h-2zM341,468h2v1h-2zM343,466h2v2h-2zM339,465h2v2h-2zM344,467h2v2h-2zM339,469h2v2h-2zM340,469h2v2h-2zM345,469h2v2h-2zM347,466h2v1h-2zM345,466h2v2h-2zM347,464h2v2h-2zM349,466h2v2h-2zM354,464h2v2h-2zM350,464h2v2h-2zM353,464h2v2h-2zM352,465h2v1h-2zM350,469h2v2h-2zM351,466h2v2h-2zM356,468h2v1h-2zM358,466h2v2h-2zM357,465h2v1h-2zM364,467h2v1h-2zM363,469h2v2h-2zM360,467h2v2h-2zM362,467h2v2h-2zM367,467h2v2h-2zM368,465h2v1h-2zM373,466h2v2h-2zM378,464h2v2h-2zM377,466h2v1h-2zM311,470h2v1h-2zM312,471h2v1h-2zM314,470h2v2h-2zM316,470h2v2h-2zM324,473h2v2h-2zM319,473h2v2h-2zM320,473h2v2h-2zM324,471h2v2h-2zM328,472h2v2h-2zM334,472h2v2h-2zM334,473h2v1h-2zM330,473h2v2h-2zM334,472h2v2h-2zM333,469h2v2h-2zM334,473h2v2h-2zM332,472h2v2h-2zM338,472h2v2h-2zM336,473h2v2h-2zM339,472h2v2h-2zM339,471h2v2h-2zM342,469h2v1h-2zM340,474h2v2h-2zM339,472h2v2h-2zM339,472h2v2h-2zM340,469h2v1h-2zM342,472h2v2h-2zM340,474h2v1h-2zM339,469h2v1h-2zM343,474h2v2h-2zM344,470h2v2h-2zM348,473h2v1h-2zM344,473h2v2h-2zM348,474h2v2h-2zM348,474h2v1h-2zM347,473h2v2h-2zM349,472h2v1h-2zM351,469h2v2h-2zM354,473h2v2h-2zM354,472h2v2h-2zM354,469h2v2h-2zM352,471h2v2h-2zM355,474h2v1h-2zM355,470h2v2h-2zM356,472h2v1h-2zM364,474h2v2h-2zM360,471h2v2h-2zM364,474h2v2h-2zM366,474h2v2h-2zM369,470h2v2h-2zM369,470h2v2h-2zM365,473h2v1h-2zM314,476h2v2h-2zM314,477h2v2h-2zM314,475h2v2h-2zM319,474h2v2h-2zM319,475h2v2h-2zM324,474h2v2h-2zM319,474h2v2h-2zM322,476h2v2h-2zM327,476h2v2h-2zM326,478h2v1h-2zM334,475h2v2h-2zM330,475h2v1h-2zM334,474h2v1h-2zM333,477h2v2h-2zM334,478h2v2h-2zM331,479h2v1h-2zM339,474h2v2h-2zM336,474h2v2h-2zM336,478h2v2h-2zM335,478h2v2h-2zM339,474h2v1h-2zM338,477h2v2h-2zM344,475h2v2h-2zM344,475h2v2h-2zM341,475h2v2h-2zM342,477h2v2h-2zM345,476h2v1h-2zM349,478h2v2h-2zM348,479h2v2h-2zM346,475h2v2h-2zM352,475h2v2h-2zM353,476h2v2h-2zM354,474h2v2h-2zM351,479h2v2h-2zM355,476h2v2h-2zM359,479h2v2h-2zM357,474h2v2h-2zM357,477h2v2h-2zM364,477h2v2h-2zM360,478h2v2h-2zM369,479h2v2h-2zM330,481h2v2h-2zM331,484h2v1h-2zM330,479h2v2h-2zM338,480h2v1h-2zM337,481h2v2h-2zM336,479h2v2h-2zM339,484h2v1h-2zM335,480h2v1h-2zM341,482h2v2h-2zM339,482h2v2h-2zM339,481h2v1h-2zM339,480h2v2h-2zM341,480h2v1h-2zM346,481h2v2h-2zM348,483h2v2h-2zM349,484h2v2h-2zM346,481h2v1h-2zM348,482h2v2h-2zM349,484h2v2h-2zM350,484h2v2h-2zM354,479h2v2h-2zM349,481h2v2h-2zM350,482h2v2h-2zM359,484h2v2h-2zM354,481h2v2h-2zM358,482h2v2h-2zM362,479h2v2h-2zM363,479h2v1h-2zM362,482h2v2h-2zM366,479h2v2h-2zM364,484h2v2h-2zM369,484h2v2h-2zM368,479h2v1h-2zM368,482h2v2h-2zM370,482h2v2h-2zM377,482h2v2h-2zM330,487h2v1h-2zM329,485h2v1h-2zM331,486h2v2h-2zM334,488h2v2h-2zM337,487h2v1h-2zM339,484h2v2h-2zM337,488h2v1h-2zM334,489h2v2h-2zM337,484h2v2h-2zM343,489h2v2h-2zM344,485h2v1h-2zM341,487h2v2h-2zM339,485h2v1h-2zM344,486h2v2h-2zM344,489h2v2h-2zM345,486h2v2h-2zM346,486h2v2h-2zM346,484h2v2h-2zM352,488h2v1h-2zM354,486h2v2h-2zM352,488h2v1h-2zM352,487h2v2h-2zM350,488h2v1h-2zM356,486h2v1h-2zM358,488h2v2h-2zM361,485h2v2h-2zM362,486h2v2h-2zM369,489h2v2h-2zM365,487h2v1h-2zM367,486h2v1h-2zM367,486h2v2h-2zM371,484h2v2h-2zM370,488h2v2h-2zM378,488h2v2h-2zM377,484h2v2h-2zM331,491h2v2h-2zM330,489h2v2h-2zM339,490h2v1h-2zM334,491h2v1h-2zM338,492h2v2h-2zM337,494h2v2h-2zM343,489h2v2h-2zM343,493h2v2h-2zM342,490h2v2h-2zM346,493h2v2h-2zM348,494h2v2h-2zM346,491h2v2h-2zM350,492h2v2h-2zM353,493h2v2h-2zM351,490h2v2h-2zM354,493h2v2h-2zM358,494h2v1h-2zM359,490h2v2h-2zM359,492h2v2h-2zM359,489h2v1h-2zM355,491h2v1h-2zM357,493h2v2h-2zM364,494h2v2h-2zM361,492h2v1h-2zM361,492h2v1h-2zM364,492h2v2h-2zM364,489h2v2h-2zM367,489h2v2h-2zM367,494h2v2h-2zM373,491h2v2h-2zM372,490h2v2h-2zM377,490h2v1h-2zM379,489h2v2h-2zM376,491h2v2h-2zM383,493h2v2h-2zM379,492h2v1h-2zM386,491h2v1h-2zM387,489h2v2h-2zM330,495h2v2h-2zM333,495h2v2h-2zM337,497h2v1h-2zM338,498h2v2h-2zM341,494h2v1h-2zM344,499h2v2h-2zM339,498h2v2h-2zM343,498h2v2h-2zM339,496h2v2h-2zM345,497h2v2h-2zM344,495h2v2h-2zM349,495h2v2h-2zM349,496h2v2h-2zM352,496h2v2h-2zM352,496h2v1h-2zM353,494h2v1h-2zM353,496h2v2h-2zM354,496h2v2h-2zM353,495h2v2h-2zM355,494h2v2h-2zM358,497h2v2h-2zM354,494h2v2h-2zM356,497h2v2h-2zM360,495h2v2h-2zM362,494h2v1h-2zM359,495h2v2h-2zM361,498h2v2h-2zM363,497h2v2h-2zM367,496h2v2h-2zM366,496h2v2h-2zM372,498h2v2h-2zM373,494h2v2h-2zM374,498h2v2h-2zM373,494h2v2h-2zM374,498h2v2h-2zM373,494h2v2h-2zM373,496h2v2h-2zM376,497h2v1h-2zM379,497h2v2h-2zM376,495h2v1h-2zM379,496h2v2h-2zM380,494h2v2h-2zM383,499h2v2h-2zM386,496h2v2h-2zM385,496h2v1h-2zM331,504h2v2h-2zM334,500h2v2h-2zM333,504h2v2h-2zM339,504h2v2h-2zM336,501h2v2h-2zM343,504h2v2h-2zM339,501h2v2h-2zM341,499h2v2h-2zM349,502h2v1h-2zM344,501h2v1h-2zM348,499h2v2h-2zM348,499h2v1h-2zM346,504h2v1h-2zM346,500h2v2h-2zM350,503h2v1h-2zM350,503h2v2h-2zM351,504h2v1h-2zM352,501h2v2h-2zM358,504h2v2h-2zM356,500h2v2h-2zM359,501h2v2h-2zM357,502h2v1h-2zM364,502h2v1h-2zM360,499h2v1h-2zM362,500h2v2h-2zM363,501h2v2h-2zM362,502h2v2h-2zM369,503h2v2h-2zM367,504h2v2h-2zM366,503h2v2h-2zM365,500h2v2h-2zM374,503h2v2h-2zM371,500h2v2h-2zM370,501h2v1h-2zM372,502h2v2h-2zM379,503h2v2h-2zM379,499h2v2h-2zM376,503h2v1h-2zM378,501h2v2h-2zM380,500h2v1h-2zM383,503h2v2h-2zM388,501h2v2h-2zM389,501h2v2h-2zM386,501h2v2h-2zM390,503h2v2h-2zM399,499h2v2h-2zM398,499h2v2h-2zM394,504h2v2h-2zM395,501h2v1h-2zM335,508h2v2h-2zM337,506h2v2h-2zM342,506h2v2h-2zM345,504h2v2h-2zM345,505h2v2h-2zM344,505h2v2h-2zM344,504h2v2h-2zM349,506h2v1h-2zM344,508h2v2h-2zM348,507h2v2h-2zM354,508h2v2h-2zM350,507h2v1h-2zM350,509h2v2h-2zM354,507h2v2h-2zM357,509h2v2h-2zM354,505h2v2h-2zM359,507h2v2h-2zM364,509h2v2h-2zM362,506h2v1h-2zM360,507h2v2h-2zM360,507h2v2h-2zM364,504h2v2h-2zM360,505h2v2h-2zM364,505h2v2h-2zM366,509h2v1h-2zM366,507h2v2h-2zM371,507h2v2h-2zM373,506h2v1h-2zM373,505h2v2h-2zM373,509h2v2h-2zM371,505h2v1h-2zM377,507h2v2h-2zM379,508h2v2h-2zM374,505h2v2h-2zM377,506h2v2h-2zM378,506h2v2h-2zM379,507h2v1h-2zM380,504h2v2h-2zM381,508h2v2h-2zM383,506h2v1h-2zM388,507h2v2h-2zM386,507h2v1h-2zM384,508h2v2h-2zM390,504h2v2h-2zM390,505h2v2h-2zM390,509h2v2h-2zM396,507h2v2h-2zM335,514h2v2h-2zM343,514h2v2h-2zM340,512h2v1h-2zM340,509h2v2h-2zM346,514h2v2h-2zM346,511h2v2h-2zM345,512h2v1h-2zM349,509h2v1h-2zM350,512h2v2h-2zM354,512h2v1h-2zM349,511h2v2h-2zM357,509h2v2h-2zM357,512h2v2h-2zM359,514h2v2h-2zM358,513h2v2h-2zM359,512h2v2h-2zM363,511h2v2h-2zM359,509h2v1h-2zM361,513h2v2h-2zM364,512h2v2h-2zM368,512h2v1h-2zM364,513h2v2h-2zM367,511h2v2h-2zM364,509h2v2h-2zM367,514h2v2h-2zM370,513h2v2h-2zM372,512h2v2h-2zM370,512h2v2h-2zM374,513h2v2h-2zM375,509h2v2h-2zM376,514h2v2h-2zM374,514h2v2h-2zM375,512h2v2h-2zM376,514h2v2h-2zM378,511h2v2h-2zM380,512h2v2h-2zM384,512h2v1h-2zM383,514h2v2h-2zM384,510h2v2h-2zM381,511h2v2h-2zM387,511h2v1h-2zM384,511h2v2h-2zM385,514h2v2h-2zM387,512h2v2h-2zM389,512h2v2h-2zM390,514h2v2h-2zM392,513h2v2h-2zM396,514h2v2h-2zM395,511h2v2h-2zM340,514h2v2h-2zM345,516h2v2h-2zM354,516h2v1h-2zM351,519h2v2h-2zM351,514h2v2h-2zM352,517h2v2h-2zM359,516h2v2h-2zM356,518h2v2h-2zM360,515h2v2h-2zM359,514h2v2h-2zM363,517h2v2h-2zM359,517h2v2h-2zM366,516h2v2h-2zM366,516h2v2h-2zM369,518h2v2h-2zM369,516h2v2h-2zM368,519h2v2h-2zM374,516h2v2h-2zM373,516h2v1h-2zM371,518h2v2h-2zM378,514h2v1h-2zM378,519h2v2h-2zM374,518h2v1h-2zM374,514h2v2h-2zM376,514h2v2h-2zM375,518h2v1h-2zM379,515h2v1h-2zM379,519h2v2h-2zM375,516h2v2h-2zM379,516h2v2h-2zM379,519h2v2h-2zM379,517h2v1h-2zM381,514h2v2h-2zM381,516h2v1h-2zM382,518h2v1h-2zM387,516h2v2h-2zM387,516h2v2h-2zM389,516h2v2h-2zM386,515h2v2h-2zM394,515h2v2h-2zM391,516h2v2h-2zM398,519h2v1h-2zM349,520h2v2h-2zM350,521h2v1h-2zM352,520h2v2h-2zM359,524h2v2h-2zM356,523h2v2h-2zM357,520h2v2h-2zM362,519h2v1h-2zM364,523h2v2h-2zM364,519h2v2h-2zM359,520h2v2h-2zM364,520h2v1h-2zM361,519h2v2h-2zM369,522h2v2h-2zM366,523h2v2h-2zM371,522h2v2h-2zM374,520h2v2h-2zM373,523h2v2h-2zM374,520h2v2h-2zM376,523h2v2h-2zM376,522h2v2h-2zM378,524h2v2h-2zM379,522h2v2h-2zM383,520h2v1h-2zM383,519h2v2h-2zM382,522h2v2h-2zM380,519h2v2h-2zM387,519h2v2h-2zM389,520h2v2h-2zM389,520h2v2h-2zM389,522h2v2h-2zM385,522h2v2h-2zM391,524h2v1h-2zM391,522h2v1h-2zM399,519h2v2h-2zM394,522h2v2h-2zM399,522h2v2h-2zM395,523h2v1h-2zM399,522h2v2h-2zM396,524h2v2h-2zM353,529h2v2h-2zM352,528h2v2h-2zM358,525h2v1h-2zM359,528h2v1h-2zM358,528h2v2h-2zM361,524h2v1h-2zM364,528h2v2h-2zM359,529h2v1h-2zM360,525h2v2h-2zM366,524h2v2h-2zM367,528h2v2h-2zM371,529h2v1h-2zM369,527h2v2h-2zM370,528h2v2h-2zM374,526h2v1h-2zM373,529h2v2h-2zM378,529h2v2h-2zM378,528h2v2h-2zM377,529h2v1h-2zM376,524h2v2h-2zM383,524h2v2h-2zM383,528h2v1h-2zM381,525h2v2h-2zM388,528h2v2h-2zM389,524h2v2h-2zM389,525h2v2h-2zM384,527h2v2h-2zM390,526h2v2h-2zM393,529h2v2h-2zM391,524h2v1h-2zM392,525h2v2h-2zM399,526h2v1h-2zM397,524h2v2h-2zM395,525h2v2h-2zM370,531h2v2h-2zM379,534h2v1h-2zM384,531h2v2h-2zM381,530h2v2h-2zM388,534h2v1h-2zM386,530h2v1h-2zM394,532h2v2h-2zM395,529h2v2h-2zM381,537h2v1h-2zM385,535h2v1h-2zM393,537h2v1h-2zM392,537h2v2h-2z" fill="#ff0000"/>
<path d="M257,172h2v1h-2zM241,217h2v1h-2zM293,263h2v2h-2zM331,287h2v2h-2zM300,263h2v2h-2zM309,282h2v2h-2zM297,297h2v1h-2zM313,325h2v1h-2zM315,333h2v2h-2zM309,338h2v1h-2zM372,365h2v2h-2zM333,380h2v2h-2zM310,389h2v1h-2zM327,390h2v2h-2zM321,392h2v1h-2zM336,395h2v2h-2zM341,397h2v1h-2zM341,405h2v2h-2zM350,403h2v1h-2zM363,404h2v2h-2zM298,425h2v2h-2zM355,427h2v1h-2zM343,429h2v1h-2zM429,391h2v2h-2zM386,420h2v2h-2zM430,427h2v2h-2zM492,410h2v1h-2zM224,399h2v2h-2zM282,476h2v2h-2zM280,481h2v2h-2zM316,451h2v1h-2zM337,462h2v2h-2zM346,492h2v2h-2zM337,500h2v1h-2zM372,486h2v2h-2zM376,492h2v2h-2zM359,499h2v1h-2zM368,505h2v1h-2zM377,503h2v2h-2zM327,509h2v2h-2zM342,533h2v2h-2zM355,537h2v2h-2zM377,520h2v2h-2zM382,448h2v2h-2zM462,447h2v2h-2zM417,455h2v1h-2zM419,485h2v1h-2zM468,484h2v1h-2zM478,484h2v2h-2zM410,492h2v2h-2zM410,499h2v2h-2zM423,497h2v2h-2zM425,507h2v2h-2zM437,504h2v1h-2zM466,523h2v2h-2zM431,530h2v2h-2zM477,532h2v2h-2zM409,527h2v2h-2zM412,532h2v2h-2zM380,516h2v2h-2zM381,509h2v1h-2zM344,541h2v2h-2zM370,537h2v1h-2zM417,539h2v1h-2zM480,526h2v2h-2zM409,533h2v1h-2zM526,463h2v1h-2zM558,473h2v1h-2zM500,511h2v2h-2zM489,515h2v2h-2zM536,532h2v1h-2zM471,553h2v1h-2zM494,557h2v2h-2zM537,555h2v2h-2zM525,568h2v1h-2zM573,566h2v1h-2zM485,570h2v2h-2zM533,577h2v2h-2zM471,585h2v2h-2zM522,596h2v2h-2zM536,596h2v2h-2zM552,623h2v1h-2zM465,551h2v1h-2zM441,556h2v1h-2zM443,557h2v1h-2zM451,562h2v2h-2zM278,462h2v2h-2zM260,483h2v1h-2zM278,485h2v1h-2zM332,378h2v1h-2zM342,397h2v2h-2z" fill="#ffff00"/></svg>
</body></html>
